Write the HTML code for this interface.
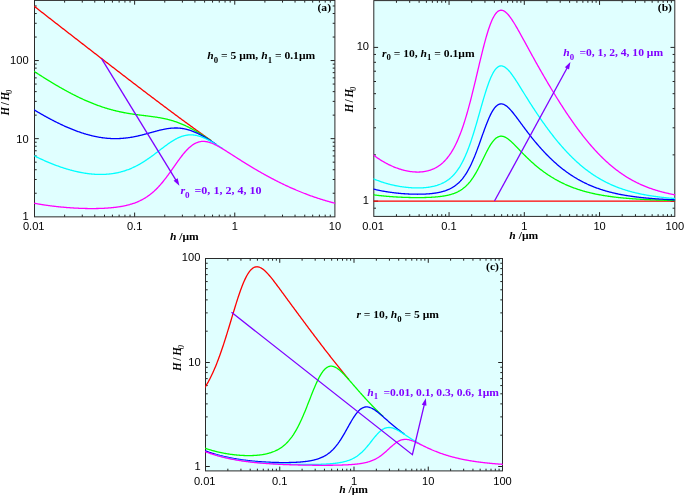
<!DOCTYPE html>
<html><head><meta charset="utf-8"><title>Figure</title><style>html,body{margin:0;padding:0;background:#fff}svg{display:block}</style></head><body>
<svg width="685" height="496" viewBox="0 0 685 496">
<style>.tk{font-family:"Liberation Sans",Arial,sans-serif;font-size:10.5px;fill:#000}.t{font-family:"Liberation Serif","Times New Roman",serif;font-weight:bold;font-size:10.85px;fill:#000}.p{fill:#8000ff}.i{font-style:italic}.s{font-size:8.2px}.s2{font-size:7.5px;font-weight:normal}</style>
<rect width="685" height="496" fill="#fff"/>
<clipPath id="ca"><rect x="34.20" y="0.10" width="301.00" height="217.05"/></clipPath>
<rect x="34.5" y="0.4" width="300.40" height="216.45" fill="#e0ffff"/>
<path d="M64.64,216.85v-2.2M64.64,0.4v2.2M82.27,216.85v-2.2M82.27,0.4v2.2M94.78,216.85v-2.2M94.78,0.4v2.2M104.49,216.85v-2.2M104.49,0.4v2.2M112.42,216.85v-2.2M112.42,0.4v2.2M119.12,216.85v-2.2M119.12,0.4v2.2M124.93,216.85v-2.2M124.93,0.4v2.2M130.05,216.85v-2.2M130.05,0.4v2.2M134.63,216.85v-4.3M134.63,0.4v4.3M164.77,216.85v-2.2M164.77,0.4v2.2M182.40,216.85v-2.2M182.40,0.4v2.2M194.91,216.85v-2.2M194.91,0.4v2.2M204.62,216.85v-2.2M204.62,0.4v2.2M212.55,216.85v-2.2M212.55,0.4v2.2M219.25,216.85v-2.2M219.25,0.4v2.2M225.06,216.85v-2.2M225.06,0.4v2.2M230.18,216.85v-2.2M230.18,0.4v2.2M234.76,216.85v-4.3M234.76,0.4v4.3M264.90,216.85v-2.2M264.90,0.4v2.2M282.53,216.85v-2.2M282.53,0.4v2.2M295.04,216.85v-2.2M295.04,0.4v2.2M304.75,216.85v-2.2M304.75,0.4v2.2M312.68,216.85v-2.2M312.68,0.4v2.2M319.38,216.85v-2.2M319.38,0.4v2.2M325.19,216.85v-2.2M325.19,0.4v2.2M330.31,216.85v-2.2M330.31,0.4v2.2M34.5,193.24h2.2M334.9,193.24h-2.2M34.5,179.49h2.2M334.9,179.49h-2.2M34.5,169.73h2.2M334.9,169.73h-2.2M34.5,162.16h2.2M334.9,162.16h-2.2M34.5,155.98h2.2M334.9,155.98h-2.2M34.5,150.75h2.2M334.9,150.75h-2.2M34.5,146.22h2.2M334.9,146.22h-2.2M34.5,142.22h2.2M334.9,142.22h-2.2M34.5,138.65h4.3M334.9,138.65h-4.3M34.5,115.14h2.2M334.9,115.14h-2.2M34.5,101.39h2.2M334.9,101.39h-2.2M34.5,91.63h2.2M334.9,91.63h-2.2M34.5,84.06h2.2M334.9,84.06h-2.2M34.5,77.88h2.2M334.9,77.88h-2.2M34.5,72.65h2.2M334.9,72.65h-2.2M34.5,68.12h2.2M334.9,68.12h-2.2M34.5,64.12h2.2M334.9,64.12h-2.2M34.5,60.55h4.3M334.9,60.55h-4.3M34.5,37.04h2.2M334.9,37.04h-2.2M34.5,23.29h2.2M334.9,23.29h-2.2M34.5,13.53h2.2M334.9,13.53h-2.2M34.5,5.96h2.2M334.9,5.96h-2.2" stroke="#222" stroke-width="1" fill="none"/>
<rect x="34.5" y="0.4" width="300.40" height="216.45" fill="none" stroke="#2a2a2a" stroke-width="1"/>
<g clip-path="url(#ca)" fill="none" stroke-width="1.3" stroke-linejoin="round">
<polyline points="30.70,3.55 31.31,4.03 31.92,4.51 32.54,4.99 33.15,5.47 33.77,5.94 34.38,6.42 34.99,6.90 35.61,7.38 36.22,7.86 36.84,8.33 37.45,8.81 38.06,9.29 38.68,9.77 39.29,10.25 39.91,10.72 40.52,11.20 41.13,11.68 41.75,12.16 42.36,12.63 42.98,13.11 43.59,13.59 44.21,14.07 44.82,14.55 45.43,15.02 46.05,15.50 46.66,15.98 47.28,16.46 47.89,16.93 48.50,17.41 49.12,17.89 49.73,18.37 50.35,18.84 50.96,19.32 51.57,19.80 52.19,20.28 52.80,20.75 53.42,21.23 54.03,21.71 54.64,22.19 55.26,22.66 55.87,23.14 56.49,23.62 57.10,24.10 57.71,24.57 58.33,25.05 58.94,25.53 59.56,26.01 60.17,26.48 60.78,26.96 61.40,27.44 62.01,27.91 62.63,28.39 63.24,28.87 63.85,29.35 64.47,29.82 65.08,30.30 65.70,30.78 66.31,31.25 66.92,31.73 67.54,32.21 68.15,32.68 68.77,33.16 69.38,33.64 69.99,34.11 70.61,34.59 71.22,35.07 71.84,35.54 72.45,36.02 73.07,36.50 73.68,36.97 74.29,37.45 74.91,37.93 75.52,38.40 76.14,38.88 76.75,39.36 77.36,39.83 77.98,40.31 78.59,40.79 79.21,41.26 79.82,41.74 80.43,42.21 81.05,42.69 81.66,43.17 82.28,43.64 82.89,44.12 83.50,44.59 84.12,45.07 84.73,45.55 85.35,46.02 85.96,46.50 86.57,46.97 87.19,47.45 87.80,47.92 88.42,48.40 89.03,48.88 89.64,49.35 90.26,49.83 90.87,50.30 91.49,50.78 92.10,51.25 92.71,51.73 93.33,52.20 93.94,52.68 94.56,53.15 95.17,53.63 95.78,54.10 96.40,54.58 97.01,55.05 97.63,55.53 98.24,56.00 98.85,56.48 99.47,56.95 100.08,57.43 100.70,57.90 101.31,58.38 101.93,58.85 102.54,59.33 103.15,59.80 103.77,60.27 104.38,60.75 105.00,61.22 105.61,61.70 106.22,62.17 106.84,62.64 107.45,63.12 108.07,63.59 108.68,64.07 109.29,64.54 109.91,65.01 110.52,65.49 111.14,65.96 111.75,66.43 112.36,66.91 112.98,67.38 113.59,67.85 114.21,68.32 114.82,68.80 115.43,69.27 116.05,69.74 116.66,70.22 117.28,70.69 117.89,71.16 118.50,71.63 119.12,72.11 119.73,72.58 120.35,73.05 120.96,73.52 121.57,73.99 122.19,74.47 122.80,74.94 123.42,75.41 124.03,75.88 124.64,76.35 125.26,76.82 125.87,77.29 126.49,77.76 127.10,78.24 127.72,78.71 128.33,79.18 128.94,79.65 129.56,80.12 130.17,80.59 130.79,81.06 131.40,81.53 132.01,82.00 132.63,82.47 133.24,82.94 133.86,83.41 134.47,83.88 135.08,84.35 135.70,84.82 136.31,85.29 136.93,85.75 137.54,86.22 138.15,86.69 138.77,87.16 139.38,87.63 140.00,88.10 140.61,88.56 141.22,89.03 141.84,89.50 142.45,89.97 143.07,90.44 143.68,90.90 144.29,91.37 144.91,91.84 145.52,92.30 146.14,92.77 146.75,93.24 147.36,93.70 147.98,94.17 148.59,94.64 149.21,95.10 149.82,95.57 150.43,96.03 151.05,96.50 151.66,96.96 152.28,97.43 152.89,97.89 153.50,98.36 154.12,98.82 154.73,99.28 155.35,99.75 155.96,100.21 156.58,100.68 157.19,101.14 157.80,101.60 158.42,102.06 159.03,102.53 159.65,102.99 160.26,103.45 160.87,103.91 161.49,104.38 162.10,104.84 162.72,105.30 163.33,105.76 163.94,106.22 164.56,106.68 165.17,107.14 165.79,107.60 166.40,108.06 167.01,108.52 167.63,108.98 168.24,109.44 168.86,109.90 169.47,110.35 170.08,110.81 170.70,111.27 171.31,111.73 171.93,112.18 172.54,112.64 173.15,113.10 173.77,113.55 174.38,114.01 175.00,114.46 175.61,114.92 176.22,115.38 176.84,115.83 177.45,116.28 178.07,116.74 178.68,117.19 179.29,117.65 179.91,118.10 180.52,118.55 181.14,119.00 181.75,119.46 182.36,119.91 182.98,120.36 183.59,120.81 184.21,121.26 184.82,121.71 185.44,122.16 186.05,122.61 186.66,123.06 187.28,123.51 187.89,123.95 188.51,124.40 189.12,124.85 189.73,125.30 190.35,125.74 190.96,126.19 191.58,126.63 192.19,127.08 192.80,127.52 193.42,127.97 194.03,128.41 194.65,128.85 195.26,129.30 195.87,129.74 196.49,130.18 197.10,130.62 197.72,131.06 198.33,131.50 198.94,131.94 199.56,132.38 200.17,132.82 200.79,133.26 201.40,133.70 202.01,134.14 202.63,134.57 203.24,135.01 203.86,135.44 204.47,135.88 205.08,136.31 205.70,136.75 206.31,137.18 206.93,137.61 207.54,138.05 208.15,138.48 208.77,138.91 209.38,139.34 210.00,139.77 210.61,140.20 211.22,140.63" stroke="#ff0000"/>
<polyline points="30.70,69.07 31.31,69.48 31.92,69.89 32.54,70.30 33.15,70.70 33.77,71.11 34.38,71.51 34.99,71.92 35.61,72.32 36.22,72.72 36.84,73.12 37.45,73.52 38.06,73.92 38.68,74.32 39.29,74.71 39.91,75.11 40.52,75.50 41.13,75.90 41.75,76.29 42.36,76.68 42.98,77.07 43.59,77.46 44.21,77.84 44.82,78.23 45.43,78.62 46.05,79.00 46.66,79.38 47.28,79.76 47.89,80.14 48.50,80.52 49.12,80.90 49.73,81.28 50.35,81.65 50.96,82.02 51.57,82.40 52.19,82.77 52.80,83.14 53.42,83.50 54.03,83.87 54.64,84.24 55.26,84.60 55.87,84.96 56.49,85.32 57.10,85.68 57.71,86.04 58.33,86.40 58.94,86.75 59.56,87.11 60.17,87.46 60.78,87.81 61.40,88.16 62.01,88.50 62.63,88.85 63.24,89.19 63.85,89.53 64.47,89.88 65.08,90.21 65.70,90.55 66.31,90.89 66.92,91.22 67.54,91.55 68.15,91.88 68.77,92.21 69.38,92.54 69.99,92.86 70.61,93.18 71.22,93.51 71.84,93.82 72.45,94.14 73.07,94.46 73.68,94.77 74.29,95.08 74.91,95.39 75.52,95.70 76.14,96.01 76.75,96.31 77.36,96.61 77.98,96.91 78.59,97.21 79.21,97.50 79.82,97.80 80.43,98.09 81.05,98.38 81.66,98.66 82.28,98.95 82.89,99.23 83.50,99.51 84.12,99.79 84.73,100.06 85.35,100.34 85.96,100.61 86.57,100.88 87.19,101.15 87.80,101.41 88.42,101.67 89.03,101.93 89.64,102.19 90.26,102.44 90.87,102.70 91.49,102.95 92.10,103.20 92.71,103.44 93.33,103.68 93.94,103.93 94.56,104.16 95.17,104.40 95.78,104.63 96.40,104.86 97.01,105.09 97.63,105.32 98.24,105.54 98.85,105.76 99.47,105.98 100.08,106.20 100.70,106.41 101.31,106.62 101.93,106.83 102.54,107.03 103.15,107.24 103.77,107.44 104.38,107.64 105.00,107.83 105.61,108.02 106.22,108.21 106.84,108.40 107.45,108.59 108.07,108.77 108.68,108.95 109.29,109.12 109.91,109.30 110.52,109.47 111.14,109.64 111.75,109.81 112.36,109.97 112.98,110.13 113.59,110.29 114.21,110.45 114.82,110.60 115.43,110.75 116.05,110.90 116.66,111.05 117.28,111.19 117.89,111.34 118.50,111.47 119.12,111.61 119.73,111.75 120.35,111.88 120.96,112.01 121.57,112.14 122.19,112.26 122.80,112.38 123.42,112.50 124.03,112.62 124.64,112.74 125.26,112.85 125.87,112.96 126.49,113.07 127.10,113.18 127.72,113.29 128.33,113.39 128.94,113.49 129.56,113.59 130.17,113.69 130.79,113.79 131.40,113.88 132.01,113.98 132.63,114.07 133.24,114.16 133.86,114.25 134.47,114.33 135.08,114.42 135.70,114.50 136.31,114.59 136.93,114.67 137.54,114.75 138.15,114.83 138.77,114.91 139.38,114.99 140.00,115.07 140.61,115.14 141.22,115.22 141.84,115.30 142.45,115.37 143.07,115.45 143.68,115.52 144.29,115.60 144.91,115.67 145.52,115.75 146.14,115.82 146.75,115.90 147.36,115.97 147.98,116.05 148.59,116.13 149.21,116.20 149.82,116.28 150.43,116.36 151.05,116.44 151.66,116.52 152.28,116.60 152.89,116.69 153.50,116.77 154.12,116.86 154.73,116.95 155.35,117.04 155.96,117.13 156.58,117.22 157.19,117.32 157.80,117.42 158.42,117.52 159.03,117.62 159.65,117.73 160.26,117.84 160.87,117.95 161.49,118.06 162.10,118.18 162.72,118.30 163.33,118.42 163.94,118.55 164.56,118.68 165.17,118.82 165.79,118.95 166.40,119.09 167.01,119.24 167.63,119.39 168.24,119.54 168.86,119.70 169.47,119.86 170.08,120.03 170.70,120.20 171.31,120.37 171.93,120.55 172.54,120.73 173.15,120.92 173.77,121.11 174.38,121.31 175.00,121.51 175.61,121.72 176.22,121.93 176.84,122.15 177.45,122.37 178.07,122.59 178.68,122.82 179.29,123.06 179.91,123.30 180.52,123.55 181.14,123.80 181.75,124.05 182.36,124.31 182.98,124.58 183.59,124.85 184.21,125.12 184.82,125.40 185.44,125.69 186.05,125.98 186.66,126.27 187.28,126.57 187.89,126.87 188.51,127.18 189.12,127.49 189.73,127.80 190.35,128.13 190.96,128.45 191.58,128.78 192.19,129.11 192.80,129.45 193.42,129.79 194.03,130.13 194.65,130.48 195.26,130.83 195.87,131.18 196.49,131.54 197.10,131.90 197.72,132.27 198.33,132.64 198.94,133.01 199.56,133.38 200.17,133.76 200.79,134.13 201.40,134.51 202.01,134.90 202.63,135.28 203.24,135.67 203.86,136.06 204.47,136.45 205.08,136.85 205.70,137.24 206.31,137.64 206.93,138.04 207.54,138.44 208.15,138.84 208.77,139.25 209.38,139.65 210.00,140.06 210.61,140.46 211.22,140.87" stroke="#00ff00"/>
<polyline points="30.70,107.78 31.31,108.16 31.92,108.53 32.54,108.91 33.15,109.28 33.77,109.65 34.38,110.02 34.99,110.39 35.61,110.75 36.22,111.12 36.84,111.48 37.45,111.84 38.06,112.20 38.68,112.56 39.29,112.92 39.91,113.27 40.52,113.63 41.13,113.98 41.75,114.33 42.36,114.68 42.98,115.03 43.59,115.38 44.21,115.72 44.82,116.06 45.43,116.41 46.05,116.75 46.66,117.08 47.28,117.42 47.89,117.75 48.50,118.09 49.12,118.42 49.73,118.75 50.35,119.07 50.96,119.40 51.57,119.72 52.19,120.04 52.80,120.36 53.42,120.68 54.03,121.00 54.64,121.31 55.26,121.62 55.87,121.93 56.49,122.24 57.10,122.54 57.71,122.85 58.33,123.15 58.94,123.45 59.56,123.74 60.17,124.04 60.78,124.33 61.40,124.62 62.01,124.91 62.63,125.19 63.24,125.48 63.85,125.76 64.47,126.04 65.08,126.31 65.70,126.59 66.31,126.86 66.92,127.13 67.54,127.40 68.15,127.66 68.77,127.92 69.38,128.18 69.99,128.44 70.61,128.69 71.22,128.94 71.84,129.19 72.45,129.44 73.07,129.68 73.68,129.92 74.29,130.16 74.91,130.40 75.52,130.63 76.14,130.86 76.75,131.09 77.36,131.31 77.98,131.53 78.59,131.75 79.21,131.96 79.82,132.18 80.43,132.39 81.05,132.59 81.66,132.80 82.28,133.00 82.89,133.19 83.50,133.39 84.12,133.58 84.73,133.77 85.35,133.95 85.96,134.14 86.57,134.31 87.19,134.49 87.80,134.66 88.42,134.83 89.03,134.99 89.64,135.16 90.26,135.32 90.87,135.47 91.49,135.62 92.10,135.77 92.71,135.92 93.33,136.06 93.94,136.19 94.56,136.33 95.17,136.46 95.78,136.59 96.40,136.71 97.01,136.83 97.63,136.95 98.24,137.06 98.85,137.17 99.47,137.27 100.08,137.37 100.70,137.47 101.31,137.57 101.93,137.65 102.54,137.74 103.15,137.82 103.77,137.90 104.38,137.98 105.00,138.05 105.61,138.11 106.22,138.18 106.84,138.23 107.45,138.29 108.07,138.34 108.68,138.39 109.29,138.43 109.91,138.47 110.52,138.50 111.14,138.53 111.75,138.56 112.36,138.58 112.98,138.60 113.59,138.61 114.21,138.62 114.82,138.63 115.43,138.63 116.05,138.63 116.66,138.62 117.28,138.61 117.89,138.59 118.50,138.57 119.12,138.55 119.73,138.52 120.35,138.49 120.96,138.46 121.57,138.42 122.19,138.37 122.80,138.32 123.42,138.27 124.03,138.22 124.64,138.16 125.26,138.09 125.87,138.02 126.49,137.95 127.10,137.88 127.72,137.80 128.33,137.71 128.94,137.63 129.56,137.53 130.17,137.44 130.79,137.34 131.40,137.24 132.01,137.13 132.63,137.02 133.24,136.91 133.86,136.79 134.47,136.67 135.08,136.55 135.70,136.43 136.31,136.30 136.93,136.16 137.54,136.03 138.15,135.89 138.77,135.75 139.38,135.61 140.00,135.46 140.61,135.31 141.22,135.16 141.84,135.01 142.45,134.85 143.07,134.69 143.68,134.54 144.29,134.37 144.91,134.21 145.52,134.05 146.14,133.88 146.75,133.72 147.36,133.55 147.98,133.38 148.59,133.21 149.21,133.04 149.82,132.87 150.43,132.70 151.05,132.53 151.66,132.36 152.28,132.19 152.89,132.02 153.50,131.85 154.12,131.68 154.73,131.51 155.35,131.35 155.96,131.18 156.58,131.02 157.19,130.86 157.80,130.70 158.42,130.54 159.03,130.39 159.65,130.24 160.26,130.09 160.87,129.94 161.49,129.80 162.10,129.67 162.72,129.53 163.33,129.40 163.94,129.28 164.56,129.16 165.17,129.04 165.79,128.93 166.40,128.82 167.01,128.72 167.63,128.63 168.24,128.54 168.86,128.45 169.47,128.38 170.08,128.31 170.70,128.24 171.31,128.19 171.93,128.13 172.54,128.09 173.15,128.06 173.77,128.03 174.38,128.01 175.00,127.99 175.61,127.99 176.22,127.99 176.84,128.00 177.45,128.02 178.07,128.05 178.68,128.09 179.29,128.13 179.91,128.19 180.52,128.25 181.14,128.32 181.75,128.40 182.36,128.49 182.98,128.59 183.59,128.69 184.21,128.81 184.82,128.93 185.44,129.06 186.05,129.20 186.66,129.36 187.28,129.51 187.89,129.68 188.51,129.86 189.12,130.04 189.73,130.24 190.35,130.44 190.96,130.65 191.58,130.86 192.19,131.09 192.80,131.32 193.42,131.56 194.03,131.81 194.65,132.07 195.26,132.33 195.87,132.60 196.49,132.88 197.10,133.16 197.72,133.45 198.33,133.75 198.94,134.05 199.56,134.36 200.17,134.68 200.79,135.00 201.40,135.32 202.01,135.65 202.63,135.99 203.24,136.33 203.86,136.68 204.47,137.02 205.08,137.38 205.70,137.74 206.31,138.10 206.93,138.46 207.54,138.83 208.15,139.21 208.77,139.58 209.38,139.96 210.00,140.34 210.61,140.72 211.22,141.11 211.84,141.50 212.45,141.89 213.07,142.28 213.68,142.67 214.30,143.07 214.91,143.47 215.52,143.87 216.14,144.27" stroke="#0000ff"/>
<polyline points="30.70,154.05 31.31,154.36 31.92,154.68 32.54,154.99 33.15,155.29 33.77,155.60 34.38,155.91 34.99,156.21 35.61,156.51 36.22,156.81 36.84,157.11 37.45,157.40 38.06,157.70 38.68,157.99 39.29,158.28 39.91,158.57 40.52,158.85 41.13,159.13 41.75,159.42 42.36,159.70 42.98,159.97 43.59,160.25 44.21,160.52 44.82,160.79 45.43,161.06 46.05,161.33 46.66,161.59 47.28,161.86 47.89,162.12 48.50,162.38 49.12,162.63 49.73,162.89 50.35,163.14 50.96,163.39 51.57,163.63 52.19,163.88 52.80,164.12 53.42,164.36 54.03,164.60 54.64,164.84 55.26,165.07 55.87,165.30 56.49,165.53 57.10,165.76 57.71,165.98 58.33,166.20 58.94,166.42 59.56,166.63 60.17,166.85 60.78,167.06 61.40,167.27 62.01,167.47 62.63,167.68 63.24,167.88 63.85,168.08 64.47,168.27 65.08,168.47 65.70,168.66 66.31,168.85 66.92,169.03 67.54,169.21 68.15,169.39 68.77,169.57 69.38,169.74 69.99,169.92 70.61,170.08 71.22,170.25 71.84,170.41 72.45,170.57 73.07,170.73 73.68,170.88 74.29,171.04 74.91,171.18 75.52,171.33 76.14,171.47 76.75,171.61 77.36,171.75 77.98,171.88 78.59,172.01 79.21,172.14 79.82,172.26 80.43,172.38 81.05,172.50 81.66,172.62 82.28,172.73 82.89,172.84 83.50,172.94 84.12,173.04 84.73,173.14 85.35,173.24 85.96,173.33 86.57,173.42 87.19,173.50 87.80,173.58 88.42,173.66 89.03,173.74 89.64,173.81 90.26,173.87 90.87,173.94 91.49,174.00 92.10,174.05 92.71,174.11 93.33,174.16 93.94,174.20 94.56,174.24 95.17,174.28 95.78,174.31 96.40,174.34 97.01,174.37 97.63,174.39 98.24,174.41 98.85,174.42 99.47,174.43 100.08,174.44 100.70,174.44 101.31,174.44 101.93,174.43 102.54,174.42 103.15,174.41 103.77,174.39 104.38,174.36 105.00,174.33 105.61,174.30 106.22,174.26 106.84,174.22 107.45,174.18 108.07,174.12 108.68,174.07 109.29,174.01 109.91,173.94 110.52,173.87 111.14,173.80 111.75,173.72 112.36,173.63 112.98,173.54 113.59,173.45 114.21,173.35 114.82,173.24 115.43,173.13 116.05,173.01 116.66,172.89 117.28,172.77 117.89,172.63 118.50,172.50 119.12,172.35 119.73,172.21 120.35,172.05 120.96,171.89 121.57,171.73 122.19,171.56 122.80,171.38 123.42,171.20 124.03,171.01 124.64,170.81 125.26,170.61 125.87,170.41 126.49,170.20 127.10,169.98 127.72,169.75 128.33,169.52 128.94,169.29 129.56,169.04 130.17,168.79 130.79,168.54 131.40,168.28 132.01,168.01 132.63,167.74 133.24,167.46 133.86,167.17 134.47,166.88 135.08,166.58 135.70,166.27 136.31,165.96 136.93,165.64 137.54,165.32 138.15,164.99 138.77,164.65 139.38,164.31 140.00,163.96 140.61,163.61 141.22,163.25 141.84,162.88 142.45,162.51 143.07,162.13 143.68,161.75 144.29,161.36 144.91,160.97 145.52,160.57 146.14,160.16 146.75,159.75 147.36,159.33 147.98,158.91 148.59,158.49 149.21,158.06 149.82,157.63 150.43,157.19 151.05,156.75 151.66,156.30 152.28,155.85 152.89,155.40 153.50,154.94 154.12,154.48 154.73,154.02 155.35,153.56 155.96,153.09 156.58,152.62 157.19,152.15 157.80,151.68 158.42,151.21 159.03,150.74 159.65,150.26 160.26,149.79 160.87,149.32 161.49,148.85 162.10,148.38 162.72,147.91 163.33,147.44 163.94,146.98 164.56,146.52 165.17,146.06 165.79,145.61 166.40,145.16 167.01,144.71 167.63,144.27 168.24,143.83 168.86,143.40 169.47,142.98 170.08,142.56 170.70,142.15 171.31,141.75 171.93,141.35 172.54,140.96 173.15,140.59 173.77,140.22 174.38,139.86 175.00,139.51 175.61,139.17 176.22,138.84 176.84,138.52 177.45,138.21 178.07,137.92 178.68,137.64 179.29,137.37 179.91,137.11 180.52,136.86 181.14,136.63 181.75,136.41 182.36,136.21 182.98,136.02 183.59,135.84 184.21,135.68 184.82,135.53 185.44,135.40 186.05,135.28 186.66,135.17 187.28,135.08 187.89,135.01 188.51,134.95 189.12,134.90 189.73,134.87 190.35,134.86 190.96,134.86 191.58,134.87 192.19,134.90 192.80,134.94 193.42,135.00 194.03,135.07 194.65,135.15 195.26,135.25 195.87,135.36 196.49,135.48 197.10,135.62 197.72,135.77 198.33,135.93 198.94,136.10 199.56,136.29 200.17,136.48 200.79,136.69 201.40,136.91 202.01,137.14 202.63,137.38 203.24,137.63 203.86,137.88 204.47,138.15 205.08,138.43 205.70,138.71 206.31,139.00 206.93,139.30 207.54,139.61 208.15,139.92 208.77,140.25 209.38,140.57 210.00,140.91 210.61,141.24 211.22,141.59 211.84,141.94 212.45,142.29 213.07,142.65 213.68,143.01 214.30,143.38 214.91,143.75 215.52,144.12 216.14,144.50 216.75,144.88 217.37,145.26 217.98,145.65 218.59,146.03 219.21,146.42 219.82,146.81 220.44,147.21 221.05,147.60 221.66,148.00 222.28,148.39 222.89,148.79" stroke="#00ffff"/>
<polyline points="30.70,202.58 31.31,202.70 31.92,202.82 32.54,202.94 33.15,203.06 33.77,203.17 34.38,203.29 34.99,203.40 35.61,203.51 36.22,203.62 36.84,203.73 37.45,203.84 38.06,203.95 38.68,204.05 39.29,204.15 39.91,204.26 40.52,204.36 41.13,204.46 41.75,204.56 42.36,204.65 42.98,204.75 43.59,204.84 44.21,204.94 44.82,205.03 45.43,205.12 46.05,205.21 46.66,205.30 47.28,205.38 47.89,205.47 48.50,205.55 49.12,205.64 49.73,205.72 50.35,205.80 50.96,205.88 51.57,205.96 52.19,206.03 52.80,206.11 53.42,206.18 54.03,206.26 54.64,206.33 55.26,206.40 55.87,206.47 56.49,206.54 57.10,206.61 57.71,206.67 58.33,206.74 58.94,206.80 59.56,206.86 60.17,206.93 60.78,206.99 61.40,207.05 62.01,207.11 62.63,207.16 63.24,207.22 63.85,207.27 64.47,207.33 65.08,207.38 65.70,207.43 66.31,207.48 66.92,207.53 67.54,207.58 68.15,207.63 68.77,207.67 69.38,207.72 69.99,207.76 70.61,207.80 71.22,207.84 71.84,207.88 72.45,207.92 73.07,207.96 73.68,208.00 74.29,208.03 74.91,208.07 75.52,208.10 76.14,208.13 76.75,208.17 77.36,208.20 77.98,208.22 78.59,208.25 79.21,208.28 79.82,208.30 80.43,208.33 81.05,208.35 81.66,208.37 82.28,208.39 82.89,208.41 83.50,208.43 84.12,208.45 84.73,208.47 85.35,208.48 85.96,208.49 86.57,208.51 87.19,208.52 87.80,208.53 88.42,208.53 89.03,208.54 89.64,208.55 90.26,208.55 90.87,208.56 91.49,208.56 92.10,208.56 92.71,208.56 93.33,208.55 93.94,208.55 94.56,208.55 95.17,208.54 95.78,208.53 96.40,208.52 97.01,208.51 97.63,208.50 98.24,208.48 98.85,208.47 99.47,208.45 100.08,208.43 100.70,208.41 101.31,208.39 101.93,208.36 102.54,208.34 103.15,208.31 103.77,208.28 104.38,208.25 105.00,208.21 105.61,208.18 106.22,208.14 106.84,208.10 107.45,208.06 108.07,208.02 108.68,207.97 109.29,207.92 109.91,207.87 110.52,207.82 111.14,207.76 111.75,207.71 112.36,207.64 112.98,207.58 113.59,207.52 114.21,207.45 114.82,207.38 115.43,207.30 116.05,207.23 116.66,207.15 117.28,207.06 117.89,206.98 118.50,206.89 119.12,206.79 119.73,206.70 120.35,206.60 120.96,206.49 121.57,206.39 122.19,206.28 122.80,206.16 123.42,206.04 124.03,205.92 124.64,205.79 125.26,205.66 125.87,205.52 126.49,205.38 127.10,205.23 127.72,205.08 128.33,204.92 128.94,204.76 129.56,204.60 130.17,204.42 130.79,204.24 131.40,204.06 132.01,203.87 132.63,203.67 133.24,203.47 133.86,203.26 134.47,203.04 135.08,202.82 135.70,202.58 136.31,202.34 136.93,202.10 137.54,201.84 138.15,201.58 138.77,201.31 139.38,201.03 140.00,200.74 140.61,200.44 141.22,200.14 141.84,199.82 142.45,199.49 143.07,199.16 143.68,198.81 144.29,198.46 144.91,198.09 145.52,197.71 146.14,197.32 146.75,196.92 147.36,196.51 147.98,196.08 148.59,195.65 149.21,195.20 149.82,194.74 150.43,194.27 151.05,193.78 151.66,193.28 152.28,192.77 152.89,192.24 153.50,191.70 154.12,191.15 154.73,190.58 155.35,190.00 155.96,189.41 156.58,188.80 157.19,188.18 157.80,187.54 158.42,186.90 159.03,186.23 159.65,185.56 160.26,184.87 160.87,184.16 161.49,183.45 162.10,182.72 162.72,181.98 163.33,181.23 163.94,180.46 164.56,179.68 165.17,178.90 165.79,178.10 166.40,177.29 167.01,176.47 167.63,175.65 168.24,174.81 168.86,173.97 169.47,173.12 170.08,172.26 170.70,171.40 171.31,170.54 171.93,169.67 172.54,168.79 173.15,167.92 173.77,167.04 174.38,166.17 175.00,165.29 175.61,164.42 176.22,163.55 176.84,162.68 177.45,161.82 178.07,160.96 178.68,160.12 179.29,159.28 179.91,158.44 180.52,157.62 181.14,156.81 181.75,156.02 182.36,155.23 182.98,154.46 183.59,153.71 184.21,152.97 184.82,152.25 185.44,151.55 186.05,150.87 186.66,150.20 187.28,149.56 187.89,148.94 188.51,148.34 189.12,147.76 189.73,147.21 190.35,146.68 190.96,146.17 191.58,145.69 192.19,145.24 192.80,144.81 193.42,144.40 194.03,144.02 194.65,143.67 195.26,143.34 195.87,143.04 196.49,142.77 197.10,142.52 197.72,142.29 198.33,142.09 198.94,141.92 199.56,141.77 200.17,141.65 200.79,141.55 201.40,141.47 202.01,141.42 202.63,141.39 203.24,141.38 203.86,141.39 204.47,141.43 205.08,141.48 205.70,141.56 206.31,141.65 206.93,141.76 207.54,141.89 208.15,142.04 208.77,142.20 209.38,142.38 210.00,142.58 210.61,142.78 211.22,143.01 211.84,143.24 212.45,143.49 213.07,143.75 213.68,144.02 214.30,144.30 214.91,144.59 215.52,144.89 216.14,145.20 216.75,145.51 217.37,145.84 217.98,146.17 218.59,146.51 219.21,146.85 219.82,147.20 220.44,147.55 221.05,147.91 221.66,148.28 222.28,148.64 222.89,149.02 223.51,149.39 224.12,149.77 224.73,150.15 225.35,150.53 225.96,150.91 226.58,151.30 227.19,151.69 227.80,152.08 228.42,152.47 229.03,152.86 229.65,153.25 230.26,153.64 230.87,154.04 231.49,154.43 232.10,154.82 232.72,155.22 233.33,155.61 233.94,156.00 234.56,156.40 235.17,156.79 235.79,157.18 236.40,157.58 237.01,157.97 237.63,158.36 238.24,158.75 238.86,159.14 239.47,159.53 240.08,159.92 240.70,160.31 241.31,160.69 241.93,161.08 242.54,161.46 243.16,161.85 243.77,162.23 244.38,162.61 245.00,162.99 245.61,163.37 246.23,163.75 246.84,164.13 247.45,164.51 248.07,164.88 248.68,165.26 249.30,165.63 249.91,166.00 250.52,166.37 251.14,166.74 251.75,167.11 252.37,167.48 252.98,167.84 253.59,168.21 254.21,168.57 254.82,168.94 255.44,169.30 256.05,169.66 256.66,170.02 257.28,170.37 257.89,170.73 258.51,171.08 259.12,171.44 259.73,171.79 260.35,172.14 260.96,172.49 261.58,172.84 262.19,173.19 262.80,173.53 263.42,173.88 264.03,174.22 264.65,174.56 265.26,174.90 265.87,175.24 266.49,175.58 267.10,175.91 267.72,176.25 268.33,176.58 268.95,176.91 269.56,177.24 270.17,177.57 270.79,177.90 271.40,178.23 272.02,178.55 272.63,178.87 273.24,179.19 273.86,179.51 274.47,179.83 275.09,180.15 275.70,180.46 276.31,180.78 276.93,181.09 277.54,181.40 278.16,181.71 278.77,182.02 279.38,182.32 280.00,182.63 280.61,182.93 281.23,183.23 281.84,183.53 282.45,183.83 283.07,184.13 283.68,184.42 284.30,184.72 284.91,185.01 285.52,185.30 286.14,185.59 286.75,185.87 287.37,186.16 287.98,186.44 288.59,186.73 289.21,187.01 289.82,187.29 290.44,187.56 291.05,187.84 291.66,188.11 292.28,188.38 292.89,188.65 293.51,188.92 294.12,189.19 294.73,189.46 295.35,189.72 295.96,189.98 296.58,190.24 297.19,190.50 297.81,190.76 298.42,191.01 299.03,191.27 299.65,191.52 300.26,191.77 300.88,192.02 301.49,192.27 302.10,192.51 302.72,192.76 303.33,193.00 303.95,193.24 304.56,193.48 305.17,193.71 305.79,193.95 306.40,194.18 307.02,194.41 307.63,194.65 308.24,194.87 308.86,195.10 309.47,195.33 310.09,195.55 310.70,195.77 311.31,195.99 311.93,196.21 312.54,196.43 313.16,196.64 313.77,196.85 314.38,197.07 315.00,197.28 315.61,197.48 316.23,197.69 316.84,197.90 317.45,198.10 318.07,198.30 318.68,198.50 319.30,198.70 319.91,198.90 320.52,199.09 321.14,199.29 321.75,199.48 322.37,199.67 322.98,199.86 323.59,200.04 324.21,200.23 324.82,200.41 325.44,200.60 326.05,200.78 326.67,200.95 327.28,201.13 327.89,201.31 328.51,201.48 329.12,201.66 329.74,201.83 330.35,202.00 330.96,202.16 331.58,202.33 332.19,202.50 332.81,202.66 333.42,202.82 334.03,202.98 334.65,203.14 335.26,203.30 335.88,203.46 336.49,203.61 337.10,203.76" stroke="#ff00ff"/>
</g>
<text transform="translate(33.70,230.20) scale(1.06,1)" text-anchor="middle" class="tk">0.01</text>
<text transform="translate(134.63,230.20) scale(1.06,1)" text-anchor="middle" class="tk">0.1</text>
<text transform="translate(234.76,230.20) scale(1.06,1)" text-anchor="middle" class="tk">1</text>
<text transform="translate(334.89,230.20) scale(1.06,1)" text-anchor="middle" class="tk">10</text>
<text transform="translate(28.60,219.60) scale(1.06,1)" text-anchor="end" class="tk">1</text>
<text transform="translate(28.60,142.55) scale(1.06,1)" text-anchor="end" class="tk">10</text>
<text transform="translate(28.60,64.45) scale(1.06,1)" text-anchor="end" class="tk">100</text>
<clipPath id="cb"><rect x="373.50" y="0.30" width="301.60" height="216.40"/></clipPath>
<rect x="373.8" y="0.6" width="301.00" height="215.80" fill="#e0ffff"/>
<path d="M396.45,216.4v-2.2M396.45,0.6v2.2M409.70,216.4v-2.2M409.70,0.6v2.2M419.11,216.4v-2.2M419.11,0.6v2.2M426.40,216.4v-2.2M426.40,0.6v2.2M432.36,216.4v-2.2M432.36,0.6v2.2M437.39,216.4v-2.2M437.39,0.6v2.2M441.76,216.4v-2.2M441.76,0.6v2.2M445.61,216.4v-2.2M445.61,0.6v2.2M449.05,216.4v-4.3M449.05,0.6v4.3M471.70,216.4v-2.2M471.70,0.6v2.2M484.95,216.4v-2.2M484.95,0.6v2.2M494.36,216.4v-2.2M494.36,0.6v2.2M501.65,216.4v-2.2M501.65,0.6v2.2M507.61,216.4v-2.2M507.61,0.6v2.2M512.64,216.4v-2.2M512.64,0.6v2.2M517.01,216.4v-2.2M517.01,0.6v2.2M520.86,216.4v-2.2M520.86,0.6v2.2M524.30,216.4v-4.3M524.30,0.6v4.3M546.95,216.4v-2.2M546.95,0.6v2.2M560.20,216.4v-2.2M560.20,0.6v2.2M569.61,216.4v-2.2M569.61,0.6v2.2M576.90,216.4v-2.2M576.90,0.6v2.2M582.86,216.4v-2.2M582.86,0.6v2.2M587.89,216.4v-2.2M587.89,0.6v2.2M592.26,216.4v-2.2M592.26,0.6v2.2M596.11,216.4v-2.2M596.11,0.6v2.2M599.55,216.4v-4.3M599.55,0.6v4.3M622.20,216.4v-2.2M622.20,0.6v2.2M635.45,216.4v-2.2M635.45,0.6v2.2M644.86,216.4v-2.2M644.86,0.6v2.2M652.15,216.4v-2.2M652.15,0.6v2.2M658.11,216.4v-2.2M658.11,0.6v2.2M663.14,216.4v-2.2M663.14,0.6v2.2M667.51,216.4v-2.2M667.51,0.6v2.2M671.36,216.4v-2.2M671.36,0.6v2.2M373.8,208.19h2.2M674.8,208.19h-2.2M373.8,201.15h4.3M674.8,201.15h-4.3M373.8,154.87h2.2M674.8,154.87h-2.2M373.8,127.79h2.2M674.8,127.79h-2.2M373.8,108.58h2.2M674.8,108.58h-2.2M373.8,93.68h2.2M674.8,93.68h-2.2M373.8,81.51h2.2M674.8,81.51h-2.2M373.8,71.22h2.2M674.8,71.22h-2.2M373.8,62.30h2.2M674.8,62.30h-2.2M373.8,54.44h2.2M674.8,54.44h-2.2M373.8,47.40h4.3M674.8,47.40h-4.3" stroke="#222" stroke-width="1" fill="none"/>
<rect x="373.8" y="0.6" width="301.00" height="215.80" fill="none" stroke="#2a2a2a" stroke-width="1"/>
<g clip-path="url(#cb)" fill="none" stroke-width="1.3" stroke-linejoin="round">
<polyline points="371.54,201.15 372.15,201.15 372.77,201.15 373.38,201.15 373.99,201.15 374.60,201.15 375.22,201.15 375.83,201.15 376.44,201.15 377.05,201.15 377.67,201.15 378.28,201.15 378.89,201.15 379.50,201.15 380.11,201.15 380.73,201.15 381.34,201.15 381.95,201.15 382.56,201.15 383.18,201.15 383.79,201.15 384.40,201.15 385.01,201.15 385.62,201.15 386.24,201.15 386.85,201.15 387.46,201.15 388.07,201.15 388.69,201.15 389.30,201.15 389.91,201.15 390.52,201.15 391.13,201.15 391.75,201.15 392.36,201.15 392.97,201.15 393.58,201.15 394.20,201.15 394.81,201.15 395.42,201.15 396.03,201.15 396.64,201.15 397.26,201.15 397.87,201.15 398.48,201.15 399.09,201.15 399.71,201.15 400.32,201.15 400.93,201.15 401.54,201.15 402.16,201.15 402.77,201.15 403.38,201.15 403.99,201.15 404.60,201.15 405.22,201.15 405.83,201.15 406.44,201.15 407.05,201.15 407.67,201.15 408.28,201.15 408.89,201.15 409.50,201.15 410.11,201.15 410.73,201.15 411.34,201.15 411.95,201.15 412.56,201.15 413.18,201.15 413.79,201.15 414.40,201.15 415.01,201.15 415.62,201.15 416.24,201.15 416.85,201.15 417.46,201.15 418.07,201.15 418.69,201.15 419.30,201.15 419.91,201.15 420.52,201.15 421.14,201.15 421.75,201.15 422.36,201.15 422.97,201.15 423.58,201.15 424.20,201.15 424.81,201.15 425.42,201.15 426.03,201.15 426.65,201.15 427.26,201.15 427.87,201.15 428.48,201.15 429.09,201.15 429.71,201.15 430.32,201.15 430.93,201.15 431.54,201.15 432.16,201.15 432.77,201.15 433.38,201.15 433.99,201.15 434.60,201.15 435.22,201.15 435.83,201.15 436.44,201.15 437.05,201.15 437.67,201.15 438.28,201.15 438.89,201.15 439.50,201.15 440.12,201.15 440.73,201.15 441.34,201.15 441.95,201.15 442.56,201.15 443.18,201.15 443.79,201.15 444.40,201.15 445.01,201.15 445.63,201.15 446.24,201.15 446.85,201.15 447.46,201.15 448.07,201.15 448.69,201.15 449.30,201.15 449.91,201.15 450.52,201.15 451.14,201.15 451.75,201.15 452.36,201.15 452.97,201.15 453.58,201.15 454.20,201.15 454.81,201.15 455.42,201.15 456.03,201.15 456.65,201.15 457.26,201.15 457.87,201.15 458.48,201.15 459.09,201.15 459.71,201.15 460.32,201.15 460.93,201.15 461.54,201.15 462.16,201.15 462.77,201.15 463.38,201.15 463.99,201.15 464.61,201.15 465.22,201.15 465.83,201.15 466.44,201.15 467.05,201.15 467.67,201.15 468.28,201.15 468.89,201.15 469.50,201.15 470.12,201.15 470.73,201.15 471.34,201.15 471.95,201.15 472.56,201.15 473.18,201.15 473.79,201.15 474.40,201.15 475.01,201.15 475.63,201.15 476.24,201.15 476.85,201.15 477.46,201.15 478.07,201.15 478.69,201.15 479.30,201.15 479.91,201.15 480.52,201.15 481.14,201.15 481.75,201.15 482.36,201.15 482.97,201.15 483.59,201.15 484.20,201.15 484.81,201.15 485.42,201.15 486.03,201.15 486.65,201.15 487.26,201.15 487.87,201.15 488.48,201.15 489.10,201.15 489.71,201.15 490.32,201.15 490.93,201.15 491.54,201.15 492.16,201.15 492.77,201.15 493.38,201.15 493.99,201.15 494.61,201.15 495.22,201.15 495.83,201.15 496.44,201.15 497.05,201.15 497.67,201.15 498.28,201.15 498.89,201.15 499.50,201.15 500.12,201.15 500.73,201.15 501.34,201.15 501.95,201.15 502.56,201.15 503.18,201.15 503.79,201.15 504.40,201.15 505.01,201.15 505.63,201.15 506.24,201.15 506.85,201.15 507.46,201.15 508.08,201.15 508.69,201.15 509.30,201.15 509.91,201.15 510.52,201.15 511.14,201.15 511.75,201.15 512.36,201.15 512.97,201.15 513.59,201.15 514.20,201.15 514.81,201.15 515.42,201.15 516.03,201.15 516.65,201.15 517.26,201.15 517.87,201.15 518.48,201.15 519.10,201.15 519.71,201.15 520.32,201.15 520.93,201.15 521.54,201.15 522.16,201.15 522.77,201.15 523.38,201.15 523.99,201.15 524.61,201.15 525.22,201.15 525.83,201.15 526.44,201.15 527.06,201.15 527.67,201.15 528.28,201.15 528.89,201.15 529.50,201.15 530.12,201.15 530.73,201.15 531.34,201.15 531.95,201.15 532.57,201.15 533.18,201.15 533.79,201.15 534.40,201.15 535.01,201.15 535.63,201.15 536.24,201.15 536.85,201.15 537.46,201.15 538.08,201.15 538.69,201.15 539.30,201.15 539.91,201.15 540.52,201.15 541.14,201.15 541.75,201.15 542.36,201.15 542.97,201.15 543.59,201.15 544.20,201.15 544.81,201.15 545.42,201.15 546.04,201.15 546.65,201.15 547.26,201.15 547.87,201.15 548.48,201.15 549.10,201.15 549.71,201.15 550.32,201.15 550.93,201.15 551.55,201.15 552.16,201.15 552.77,201.15 553.38,201.15 553.99,201.15 554.61,201.15 555.22,201.15 555.83,201.15 556.44,201.15 557.06,201.15 557.67,201.15 558.28,201.15 558.89,201.15 559.50,201.15 560.12,201.15 560.73,201.15 561.34,201.15 561.95,201.15 562.57,201.15 563.18,201.15 563.79,201.15 564.40,201.15 565.01,201.15 565.63,201.15 566.24,201.15 566.85,201.15 567.46,201.15 568.08,201.15 568.69,201.15 569.30,201.15 569.91,201.15 570.53,201.15 571.14,201.15 571.75,201.15 572.36,201.15 572.97,201.15 573.59,201.15 574.20,201.15 574.81,201.15 575.42,201.15 576.04,201.15 576.65,201.15 577.26,201.15 577.87,201.15 578.48,201.15 579.10,201.15 579.71,201.15 580.32,201.15 580.93,201.15 581.55,201.15 582.16,201.15 582.77,201.15 583.38,201.15 583.99,201.15 584.61,201.15 585.22,201.15 585.83,201.15 586.44,201.15 587.06,201.15 587.67,201.15 588.28,201.15 588.89,201.15 589.51,201.15 590.12,201.15 590.73,201.15 591.34,201.15 591.95,201.15 592.57,201.15 593.18,201.15 593.79,201.15 594.40,201.15 595.02,201.15 595.63,201.15 596.24,201.15 596.85,201.15 597.46,201.15 598.08,201.15 598.69,201.15 599.30,201.15 599.91,201.15 600.53,201.15 601.14,201.15 601.75,201.15 602.36,201.15 602.97,201.15 603.59,201.15 604.20,201.15 604.81,201.15 605.42,201.15 606.04,201.15 606.65,201.15 607.26,201.15 607.87,201.15 608.48,201.15 609.10,201.15 609.71,201.15 610.32,201.15 610.93,201.15 611.55,201.15 612.16,201.15 612.77,201.15 613.38,201.15 614.00,201.15 614.61,201.15 615.22,201.15 615.83,201.15 616.44,201.15 617.06,201.15 617.67,201.15 618.28,201.15 618.89,201.15 619.51,201.15 620.12,201.15 620.73,201.15 621.34,201.15 621.95,201.15 622.57,201.15 623.18,201.15 623.79,201.15 624.40,201.15 625.02,201.15 625.63,201.15 626.24,201.15 626.85,201.15 627.46,201.15 628.08,201.15 628.69,201.15 629.30,201.15 629.91,201.15 630.53,201.15 631.14,201.15 631.75,201.15 632.36,201.15 632.98,201.15 633.59,201.15 634.20,201.15 634.81,201.15 635.42,201.15 636.04,201.15 636.65,201.15 637.26,201.15 637.87,201.15 638.49,201.15 639.10,201.15 639.71,201.15 640.32,201.15 640.93,201.15 641.55,201.15 642.16,201.15 642.77,201.15 643.38,201.15 644.00,201.15 644.61,201.15 645.22,201.15 645.83,201.15 646.44,201.15 647.06,201.15 647.67,201.15 648.28,201.15 648.89,201.15 649.51,201.15 650.12,201.15 650.73,201.15 651.34,201.15 651.96,201.15 652.57,201.15 653.18,201.15 653.79,201.15 654.40,201.15 655.02,201.15 655.63,201.15 656.24,201.15 656.85,201.15 657.47,201.15 658.08,201.15 658.69,201.15 659.30,201.15 659.91,201.15 660.53,201.15 661.14,201.15 661.75,201.15 662.36,201.15 662.98,201.15 663.59,201.15 664.20,201.15 664.81,201.15 665.42,201.15 666.04,201.15 666.65,201.15 667.26,201.15 667.87,201.15 668.49,201.15 669.10,201.15 669.71,201.15 670.32,201.15 670.93,201.15 671.55,201.15 672.16,201.15 672.77,201.15 673.38,201.15 674.00,201.15 674.61,201.15 675.22,201.15 675.83,201.15 676.45,201.15 677.06,201.15" stroke="#ff0000"/>
<polyline points="371.54,194.56 372.15,194.65 372.77,194.73 373.38,194.82 373.99,194.90 374.60,194.98 375.22,195.06 375.83,195.14 376.44,195.21 377.05,195.29 377.67,195.36 378.28,195.43 378.89,195.50 379.50,195.57 380.11,195.64 380.73,195.70 381.34,195.77 381.95,195.83 382.56,195.89 383.18,195.95 383.79,196.01 384.40,196.07 385.01,196.13 385.62,196.18 386.24,196.24 386.85,196.29 387.46,196.34 388.07,196.39 388.69,196.44 389.30,196.49 389.91,196.54 390.52,196.59 391.13,196.63 391.75,196.68 392.36,196.72 392.97,196.76 393.58,196.80 394.20,196.84 394.81,196.88 395.42,196.92 396.03,196.95 396.64,196.99 397.26,197.02 397.87,197.06 398.48,197.09 399.09,197.12 399.71,197.15 400.32,197.18 400.93,197.21 401.54,197.24 402.16,197.26 402.77,197.29 403.38,197.31 403.99,197.34 404.60,197.36 405.22,197.38 405.83,197.40 406.44,197.42 407.05,197.44 407.67,197.46 408.28,197.47 408.89,197.49 409.50,197.50 410.11,197.52 410.73,197.53 411.34,197.54 411.95,197.55 412.56,197.56 413.18,197.57 413.79,197.58 414.40,197.58 415.01,197.59 415.62,197.59 416.24,197.59 416.85,197.60 417.46,197.60 418.07,197.60 418.69,197.60 419.30,197.59 419.91,197.59 420.52,197.58 421.14,197.58 421.75,197.57 422.36,197.56 422.97,197.55 423.58,197.54 424.20,197.53 424.81,197.51 425.42,197.50 426.03,197.48 426.65,197.46 427.26,197.44 427.87,197.42 428.48,197.39 429.09,197.37 429.71,197.34 430.32,197.31 430.93,197.28 431.54,197.24 432.16,197.21 432.77,197.17 433.38,197.13 433.99,197.09 434.60,197.04 435.22,196.99 435.83,196.94 436.44,196.89 437.05,196.83 437.67,196.78 438.28,196.71 438.89,196.65 439.50,196.58 440.12,196.51 440.73,196.43 441.34,196.35 441.95,196.27 442.56,196.18 443.18,196.09 443.79,195.99 444.40,195.89 445.01,195.78 445.63,195.67 446.24,195.55 446.85,195.43 447.46,195.30 448.07,195.16 448.69,195.02 449.30,194.87 449.91,194.71 450.52,194.54 451.14,194.37 451.75,194.19 452.36,193.99 452.97,193.79 453.58,193.58 454.20,193.36 454.81,193.12 455.42,192.88 456.03,192.62 456.65,192.35 457.26,192.07 457.87,191.77 458.48,191.45 459.09,191.12 459.71,190.78 460.32,190.41 460.93,190.03 461.54,189.63 462.16,189.21 462.77,188.77 463.38,188.31 463.99,187.83 464.61,187.32 465.22,186.79 465.83,186.23 466.44,185.65 467.05,185.04 467.67,184.40 468.28,183.74 468.89,183.04 469.50,182.32 470.12,181.57 470.73,180.78 471.34,179.97 471.95,179.12 472.56,178.24 473.18,177.33 473.79,176.39 474.40,175.42 475.01,174.41 475.63,173.38 476.24,172.32 476.85,171.22 477.46,170.11 478.07,168.96 478.69,167.80 479.30,166.61 479.91,165.41 480.52,164.18 481.14,162.95 481.75,161.70 482.36,160.45 482.97,159.19 483.59,157.93 484.20,156.68 484.81,155.43 485.42,154.19 486.03,152.97 486.65,151.77 487.26,150.59 487.87,149.43 488.48,148.31 489.10,147.22 489.71,146.17 490.32,145.15 490.93,144.19 491.54,143.27 492.16,142.40 492.77,141.58 493.38,140.81 493.99,140.11 494.61,139.46 495.22,138.86 495.83,138.33 496.44,137.86 497.05,137.45 497.67,137.09 498.28,136.80 498.89,136.57 499.50,136.39 500.12,136.27 500.73,136.21 501.34,136.20 501.95,136.24 502.56,136.33 503.18,136.47 503.79,136.65 504.40,136.88 505.01,137.15 505.63,137.45 506.24,137.80 506.85,138.17 507.46,138.58 508.08,139.02 508.69,139.48 509.30,139.97 509.91,140.48 510.52,141.01 511.14,141.55 511.75,142.12 512.36,142.70 512.97,143.28 513.59,143.89 514.20,144.50 514.81,145.11 515.42,145.74 516.03,146.37 516.65,147.00 517.26,147.64 517.87,148.27 518.48,148.91 519.10,149.55 519.71,150.19 520.32,150.83 520.93,151.47 521.54,152.10 522.16,152.73 522.77,153.36 523.38,153.98 523.99,154.60 524.61,155.22 525.22,155.83 525.83,156.44 526.44,157.04 527.06,157.64 527.67,158.23 528.28,158.82 528.89,159.40 529.50,159.98 530.12,160.55 530.73,161.12 531.34,161.68 531.95,162.23 532.57,162.78 533.18,163.32 533.79,163.86 534.40,164.39 535.01,164.92 535.63,165.44 536.24,165.96 536.85,166.47 537.46,166.97 538.08,167.47 538.69,167.96 539.30,168.45 539.91,168.93 540.52,169.41 541.14,169.88 541.75,170.34 542.36,170.80 542.97,171.25 543.59,171.70 544.20,172.15 544.81,172.59 545.42,173.02 546.04,173.45 546.65,173.87 547.26,174.28 547.87,174.70 548.48,175.10 549.10,175.50 549.71,175.90 550.32,176.29 550.93,176.68 551.55,177.06 552.16,177.44 552.77,177.81 553.38,178.17 553.99,178.54 554.61,178.89 555.22,179.25 555.83,179.59 556.44,179.94 557.06,180.27 557.67,180.61 558.28,180.94 558.89,181.26 559.50,181.58 560.12,181.90 560.73,182.21 561.34,182.51 561.95,182.82 562.57,183.12 563.18,183.41 563.79,183.70 564.40,183.98 565.01,184.27 565.63,184.54 566.24,184.82 566.85,185.09 567.46,185.35 568.08,185.61 568.69,185.87 569.30,186.13 569.91,186.38 570.53,186.62 571.14,186.86 571.75,187.10 572.36,187.34 572.97,187.57 573.59,187.80 574.20,188.02 574.81,188.25 575.42,188.46 576.04,188.68 576.65,188.89 577.26,189.10 577.87,189.30 578.48,189.51 579.10,189.70 579.71,189.90 580.32,190.09 580.93,190.28 581.55,190.47 582.16,190.65 582.77,190.83 583.38,191.01 583.99,191.18 584.61,191.36 585.22,191.53 585.83,191.69 586.44,191.86 587.06,192.02 587.67,192.18 588.28,192.33 588.89,192.49 589.51,192.64 590.12,192.79 590.73,192.93 591.34,193.07 591.95,193.22 592.57,193.36 593.18,193.49 593.79,193.63 594.40,193.76 595.02,193.89 595.63,194.02 596.24,194.14 596.85,194.27 597.46,194.39 598.08,194.51 598.69,194.62 599.30,194.74 599.91,194.85 600.53,194.96 601.14,195.07 601.75,195.18 602.36,195.29 602.97,195.39 603.59,195.50 604.20,195.60 604.81,195.69 605.42,195.79 606.04,195.89 606.65,195.98 607.26,196.07 607.87,196.16 608.48,196.25 609.10,196.34 609.71,196.43 610.32,196.51 610.93,196.60 611.55,196.68 612.16,196.76 612.77,196.84 613.38,196.91 614.00,196.99 614.61,197.07 615.22,197.14 615.83,197.21 616.44,197.28 617.06,197.35 617.67,197.42 618.28,197.49 618.89,197.55 619.51,197.62 620.12,197.68 620.73,197.75 621.34,197.81 621.95,197.87 622.57,197.93 623.18,197.99 623.79,198.04 624.40,198.10 625.02,198.15 625.63,198.21 626.24,198.26 626.85,198.32 627.46,198.37 628.08,198.42 628.69,198.47 629.30,198.52 629.91,198.56 630.53,198.61 631.14,198.66 631.75,198.70 632.36,198.75 632.98,198.79 633.59,198.83 634.20,198.88 634.81,198.92 635.42,198.96 636.04,199.00 636.65,199.04 637.26,199.08 637.87,199.11 638.49,199.15 639.10,199.19 639.71,199.22 640.32,199.26 640.93,199.29 641.55,199.33 642.16,199.36 642.77,199.39 643.38,199.43 644.00,199.46 644.61,199.49 645.22,199.52 645.83,199.55 646.44,199.58 647.06,199.61 647.67,199.64 648.28,199.66 648.89,199.69 649.51,199.72 650.12,199.74 650.73,199.77 651.34,199.80 651.96,199.82 652.57,199.84 653.18,199.87 653.79,199.89 654.40,199.92 655.02,199.94 655.63,199.96 656.24,199.98 656.85,200.00 657.47,200.02 658.08,200.05 658.69,200.07 659.30,200.09 659.91,200.11 660.53,200.12 661.14,200.14 661.75,200.16 662.36,200.18 662.98,200.20 663.59,200.22 664.20,200.23 664.81,200.25 665.42,200.27 666.04,200.28 666.65,200.30 667.26,200.31 667.87,200.33 668.49,200.34 669.10,200.36 669.71,200.37 670.32,200.39 670.93,200.40 671.55,200.42 672.16,200.43 672.77,200.44 673.38,200.46 674.00,200.47 674.61,200.48 675.22,200.49 675.83,200.51 676.45,200.52 677.06,200.53" stroke="#00ff00"/>
<polyline points="371.54,188.56 372.15,188.72 372.77,188.88 373.38,189.03 373.99,189.18 374.60,189.33 375.22,189.48 375.83,189.62 376.44,189.76 377.05,189.90 377.67,190.03 378.28,190.16 378.89,190.29 379.50,190.42 380.11,190.55 380.73,190.67 381.34,190.79 381.95,190.91 382.56,191.02 383.18,191.13 383.79,191.24 384.40,191.35 385.01,191.46 385.62,191.56 386.24,191.66 386.85,191.76 387.46,191.86 388.07,191.96 388.69,192.05 389.30,192.14 389.91,192.23 390.52,192.32 391.13,192.40 391.75,192.48 392.36,192.56 392.97,192.64 393.58,192.72 394.20,192.79 394.81,192.87 395.42,192.94 396.03,193.00 396.64,193.07 397.26,193.14 397.87,193.20 398.48,193.26 399.09,193.32 399.71,193.38 400.32,193.43 400.93,193.49 401.54,193.54 402.16,193.59 402.77,193.64 403.38,193.68 403.99,193.73 404.60,193.77 405.22,193.81 405.83,193.85 406.44,193.89 407.05,193.92 407.67,193.95 408.28,193.99 408.89,194.02 409.50,194.04 410.11,194.07 410.73,194.09 411.34,194.12 411.95,194.14 412.56,194.15 413.18,194.17 413.79,194.18 414.40,194.20 415.01,194.21 415.62,194.21 416.24,194.22 416.85,194.22 417.46,194.23 418.07,194.22 418.69,194.22 419.30,194.22 419.91,194.21 420.52,194.20 421.14,194.19 421.75,194.17 422.36,194.16 422.97,194.14 423.58,194.11 424.20,194.09 424.81,194.06 425.42,194.03 426.03,194.00 426.65,193.96 427.26,193.92 427.87,193.88 428.48,193.83 429.09,193.78 429.71,193.73 430.32,193.68 430.93,193.62 431.54,193.55 432.16,193.48 432.77,193.41 433.38,193.34 433.99,193.26 434.60,193.17 435.22,193.08 435.83,192.99 436.44,192.89 437.05,192.78 437.67,192.67 438.28,192.55 438.89,192.43 439.50,192.30 440.12,192.17 440.73,192.03 441.34,191.88 441.95,191.72 442.56,191.56 443.18,191.38 443.79,191.20 444.40,191.01 445.01,190.81 445.63,190.61 446.24,190.39 446.85,190.16 447.46,189.92 448.07,189.67 448.69,189.40 449.30,189.13 449.91,188.84 450.52,188.53 451.14,188.21 451.75,187.88 452.36,187.53 452.97,187.17 453.58,186.78 454.20,186.38 454.81,185.96 455.42,185.52 456.03,185.06 456.65,184.58 457.26,184.07 457.87,183.54 458.48,182.99 459.09,182.41 459.71,181.80 460.32,181.17 460.93,180.50 461.54,179.81 462.16,179.09 462.77,178.33 463.38,177.54 463.99,176.72 464.61,175.87 465.22,174.97 465.83,174.04 466.44,173.07 467.05,172.07 467.67,171.02 468.28,169.94 468.89,168.81 469.50,167.65 470.12,166.44 470.73,165.20 471.34,163.91 471.95,162.58 472.56,161.21 473.18,159.81 473.79,158.37 474.40,156.89 475.01,155.37 475.63,153.82 476.24,152.24 476.85,150.63 477.46,149.00 478.07,147.34 478.69,145.66 479.30,143.96 479.91,142.25 480.52,140.53 481.14,138.80 481.75,137.07 482.36,135.34 482.97,133.62 483.59,131.91 484.20,130.22 484.81,128.55 485.42,126.90 486.03,125.28 486.65,123.69 487.26,122.14 487.87,120.64 488.48,119.18 489.10,117.78 489.71,116.43 490.32,115.13 490.93,113.90 491.54,112.74 492.16,111.63 492.77,110.60 493.38,109.64 493.99,108.76 494.61,107.95 495.22,107.21 495.83,106.55 496.44,105.96 497.05,105.45 497.67,105.01 498.28,104.65 498.89,104.36 499.50,104.14 500.12,104.00 500.73,103.92 501.34,103.90 501.95,103.95 502.56,104.07 503.18,104.24 503.79,104.46 504.40,104.75 505.01,105.08 505.63,105.46 506.24,105.88 506.85,106.35 507.46,106.86 508.08,107.40 508.69,107.98 509.30,108.58 509.91,109.22 510.52,109.89 511.14,110.57 511.75,111.28 512.36,112.01 512.97,112.76 513.59,113.52 514.20,114.29 514.81,115.08 515.42,115.88 516.03,116.68 516.65,117.50 517.26,118.32 517.87,119.14 518.48,119.97 519.10,120.80 519.71,121.63 520.32,122.46 520.93,123.29 521.54,124.13 522.16,124.96 522.77,125.79 523.38,126.62 523.99,127.44 524.61,128.26 525.22,129.08 525.83,129.90 526.44,130.71 527.06,131.52 527.67,132.32 528.28,133.12 528.89,133.91 529.50,134.70 530.12,135.48 530.73,136.26 531.34,137.04 531.95,137.80 532.57,138.57 533.18,139.32 533.79,140.08 534.40,140.82 535.01,141.56 535.63,142.30 536.24,143.03 536.85,143.75 537.46,144.47 538.08,145.18 538.69,145.89 539.30,146.59 539.91,147.29 540.52,147.98 541.14,148.66 541.75,149.34 542.36,150.01 542.97,150.68 543.59,151.34 544.20,151.99 544.81,152.64 545.42,153.29 546.04,153.92 546.65,154.55 547.26,155.18 547.87,155.80 548.48,156.41 549.10,157.02 549.71,157.62 550.32,158.22 550.93,158.81 551.55,159.39 552.16,159.97 552.77,160.55 553.38,161.11 553.99,161.67 554.61,162.23 555.22,162.78 555.83,163.32 556.44,163.86 557.06,164.39 557.67,164.92 558.28,165.44 558.89,165.96 559.50,166.47 560.12,166.97 560.73,167.47 561.34,167.96 561.95,168.45 562.57,168.93 563.18,169.41 563.79,169.88 564.40,170.34 565.01,170.80 565.63,171.26 566.24,171.70 566.85,172.15 567.46,172.59 568.08,173.02 568.69,173.45 569.30,173.87 569.91,174.29 570.53,174.70 571.14,175.10 571.75,175.50 572.36,175.90 572.97,176.29 573.59,176.68 574.20,177.06 574.81,177.44 575.42,177.81 576.04,178.17 576.65,178.54 577.26,178.89 577.87,179.25 578.48,179.59 579.10,179.94 579.71,180.27 580.32,180.61 580.93,180.94 581.55,181.26 582.16,181.58 582.77,181.90 583.38,182.21 583.99,182.51 584.61,182.82 585.22,183.12 585.83,183.41 586.44,183.70 587.06,183.98 587.67,184.27 588.28,184.54 588.89,184.82 589.51,185.09 590.12,185.35 590.73,185.61 591.34,185.87 591.95,186.13 592.57,186.38 593.18,186.62 593.79,186.87 594.40,187.10 595.02,187.34 595.63,187.57 596.24,187.80 596.85,188.03 597.46,188.25 598.08,188.46 598.69,188.68 599.30,188.89 599.91,189.10 600.53,189.30 601.14,189.51 601.75,189.70 602.36,189.90 602.97,190.09 603.59,190.28 604.20,190.47 604.81,190.65 605.42,190.83 606.04,191.01 606.65,191.18 607.26,191.36 607.87,191.53 608.48,191.69 609.10,191.86 609.71,192.02 610.32,192.18 610.93,192.33 611.55,192.49 612.16,192.64 612.77,192.79 613.38,192.93 614.00,193.08 614.61,193.22 615.22,193.36 615.83,193.49 616.44,193.63 617.06,193.76 617.67,193.89 618.28,194.02 618.89,194.14 619.51,194.27 620.12,194.39 620.73,194.51 621.34,194.62 621.95,194.74 622.57,194.85 623.18,194.96 623.79,195.07 624.40,195.18 625.02,195.29 625.63,195.39 626.24,195.50 626.85,195.60 627.46,195.69 628.08,195.79 628.69,195.89 629.30,195.98 629.91,196.07 630.53,196.16 631.14,196.25 631.75,196.34 632.36,196.43 632.98,196.51 633.59,196.60 634.20,196.68 634.81,196.76 635.42,196.84 636.04,196.91 636.65,196.99 637.26,197.07 637.87,197.14 638.49,197.21 639.10,197.28 639.71,197.35 640.32,197.42 640.93,197.49 641.55,197.55 642.16,197.62 642.77,197.68 643.38,197.75 644.00,197.81 644.61,197.87 645.22,197.93 645.83,197.99 646.44,198.04 647.06,198.10 647.67,198.16 648.28,198.21 648.89,198.26 649.51,198.32 650.12,198.37 650.73,198.42 651.34,198.47 651.96,198.52 652.57,198.56 653.18,198.61 653.79,198.66 654.40,198.70 655.02,198.75 655.63,198.79 656.24,198.83 656.85,198.88 657.47,198.92 658.08,198.96 658.69,199.00 659.30,199.04 659.91,199.08 660.53,199.11 661.14,199.15 661.75,199.19 662.36,199.22 662.98,199.26 663.59,199.29 664.20,199.33 664.81,199.36 665.42,199.39 666.04,199.43 666.65,199.46 667.26,199.49 667.87,199.52 668.49,199.55 669.10,199.58 669.71,199.61 670.32,199.64 670.93,199.66 671.55,199.69 672.16,199.72 672.77,199.74 673.38,199.77 674.00,199.80 674.61,199.82 675.22,199.84 675.83,199.87 676.45,199.89 677.06,199.92" stroke="#0000ff"/>
<polyline points="371.54,177.98 372.15,178.25 372.77,178.52 373.38,178.78 373.99,179.04 374.60,179.29 375.22,179.54 375.83,179.79 376.44,180.03 377.05,180.27 377.67,180.50 378.28,180.73 378.89,180.96 379.50,181.18 380.11,181.40 380.73,181.61 381.34,181.82 381.95,182.03 382.56,182.23 383.18,182.43 383.79,182.62 384.40,182.81 385.01,183.00 385.62,183.18 386.24,183.36 386.85,183.54 387.46,183.71 388.07,183.88 388.69,184.04 389.30,184.20 389.91,184.36 390.52,184.51 391.13,184.66 391.75,184.81 392.36,184.96 392.97,185.10 393.58,185.23 394.20,185.37 394.81,185.50 395.42,185.62 396.03,185.75 396.64,185.87 397.26,185.98 397.87,186.10 398.48,186.21 399.09,186.31 399.71,186.42 400.32,186.52 400.93,186.61 401.54,186.71 402.16,186.80 402.77,186.88 403.38,186.97 403.99,187.05 404.60,187.12 405.22,187.20 405.83,187.27 406.44,187.34 407.05,187.40 407.67,187.46 408.28,187.52 408.89,187.57 409.50,187.62 410.11,187.67 410.73,187.71 411.34,187.75 411.95,187.79 412.56,187.82 413.18,187.85 413.79,187.88 414.40,187.90 415.01,187.92 415.62,187.93 416.24,187.94 416.85,187.95 417.46,187.95 418.07,187.95 418.69,187.95 419.30,187.94 419.91,187.92 420.52,187.91 421.14,187.88 421.75,187.86 422.36,187.83 422.97,187.79 423.58,187.75 424.20,187.70 424.81,187.65 425.42,187.60 426.03,187.54 426.65,187.47 427.26,187.40 427.87,187.32 428.48,187.24 429.09,187.15 429.71,187.06 430.32,186.95 430.93,186.85 431.54,186.73 432.16,186.61 432.77,186.48 433.38,186.34 433.99,186.20 434.60,186.04 435.22,185.88 435.83,185.71 436.44,185.53 437.05,185.35 437.67,185.15 438.28,184.94 438.89,184.72 439.50,184.49 440.12,184.25 440.73,184.00 441.34,183.74 441.95,183.46 442.56,183.17 443.18,182.86 443.79,182.55 444.40,182.21 445.01,181.87 445.63,181.50 446.24,181.12 446.85,180.72 447.46,180.31 448.07,179.87 448.69,179.42 449.30,178.94 449.91,178.44 450.52,177.92 451.14,177.38 451.75,176.82 452.36,176.23 452.97,175.61 453.58,174.97 454.20,174.29 454.81,173.59 455.42,172.86 456.03,172.10 456.65,171.31 457.26,170.48 457.87,169.62 458.48,168.72 459.09,167.79 459.71,166.82 460.32,165.81 460.93,164.76 461.54,163.67 462.16,162.53 462.77,161.36 463.38,160.14 463.99,158.88 464.61,157.57 465.22,156.22 465.83,154.82 466.44,153.37 467.05,151.88 467.67,150.34 468.28,148.75 468.89,147.12 469.50,145.44 470.12,143.72 470.73,141.95 471.34,140.14 471.95,138.29 472.56,136.40 473.18,134.47 473.79,132.50 474.40,130.50 475.01,128.47 475.63,126.40 476.24,124.32 476.85,122.21 477.46,120.08 478.07,117.93 478.69,115.78 479.30,113.62 479.91,111.45 480.52,109.29 481.14,107.13 481.75,104.98 482.36,102.85 482.97,100.74 483.59,98.66 484.20,96.61 484.81,94.59 485.42,92.61 486.03,90.68 486.65,88.79 487.26,86.96 487.87,85.19 488.48,83.48 489.10,81.83 489.71,80.26 490.32,78.76 490.93,77.33 491.54,75.98 492.16,74.72 492.77,73.53 493.38,72.43 493.99,71.42 494.61,70.49 495.22,69.65 495.83,68.89 496.44,68.23 497.05,67.64 497.67,67.15 498.28,66.74 498.89,66.41 499.50,66.16 500.12,66.00 500.73,65.91 501.34,65.89 501.95,65.95 502.56,66.08 503.18,66.27 503.79,66.53 504.40,66.85 505.01,67.22 505.63,67.65 506.24,68.14 506.85,68.67 507.46,69.25 508.08,69.86 508.69,70.52 509.30,71.22 509.91,71.95 510.52,72.71 511.14,73.50 511.75,74.31 512.36,75.15 512.97,76.01 513.59,76.89 514.20,77.78 514.81,78.70 515.42,79.62 516.03,80.56 516.65,81.51 517.26,82.46 517.87,83.43 518.48,84.40 519.10,85.37 519.71,86.35 520.32,87.34 520.93,88.32 521.54,89.31 522.16,90.30 522.77,91.29 523.38,92.27 523.99,93.26 524.61,94.25 525.22,95.23 525.83,96.22 526.44,97.20 527.06,98.18 527.67,99.15 528.28,100.13 528.89,101.10 529.50,102.06 530.12,103.03 530.73,103.98 531.34,104.94 531.95,105.89 532.57,106.84 533.18,107.78 533.79,108.72 534.40,109.66 535.01,110.59 535.63,111.51 536.24,112.43 536.85,113.35 537.46,114.26 538.08,115.17 538.69,116.08 539.30,116.97 539.91,117.87 540.52,118.76 541.14,119.64 541.75,120.52 542.36,121.40 542.97,122.26 543.59,123.13 544.20,123.99 544.81,124.84 545.42,125.69 546.04,126.54 546.65,127.38 547.26,128.21 547.87,129.04 548.48,129.86 549.10,130.68 549.71,131.49 550.32,132.30 550.93,133.10 551.55,133.90 552.16,134.69 552.77,135.48 553.38,136.26 553.99,137.03 554.61,137.80 555.22,138.57 555.83,139.32 556.44,140.08 557.06,140.82 557.67,141.56 558.28,142.30 558.89,143.03 559.50,143.75 560.12,144.47 560.73,145.19 561.34,145.89 561.95,146.59 562.57,147.29 563.18,147.98 563.79,148.66 564.40,149.34 565.01,150.01 565.63,150.68 566.24,151.34 566.85,151.99 567.46,152.64 568.08,153.29 568.69,153.92 569.30,154.56 569.91,155.18 570.53,155.80 571.14,156.41 571.75,157.02 572.36,157.62 572.97,158.22 573.59,158.81 574.20,159.39 574.81,159.97 575.42,160.55 576.04,161.11 576.65,161.67 577.26,162.23 577.87,162.78 578.48,163.32 579.10,163.86 579.71,164.39 580.32,164.92 580.93,165.44 581.55,165.96 582.16,166.47 582.77,166.97 583.38,167.47 583.99,167.96 584.61,168.45 585.22,168.93 585.83,169.41 586.44,169.88 587.06,170.34 587.67,170.80 588.28,171.26 588.89,171.70 589.51,172.15 590.12,172.59 590.73,173.02 591.34,173.45 591.95,173.87 592.57,174.29 593.18,174.70 593.79,175.10 594.40,175.51 595.02,175.90 595.63,176.29 596.24,176.68 596.85,177.06 597.46,177.44 598.08,177.81 598.69,178.18 599.30,178.54 599.91,178.89 600.53,179.25 601.14,179.59 601.75,179.94 602.36,180.27 602.97,180.61 603.59,180.94 604.20,181.26 604.81,181.58 605.42,181.90 606.04,182.21 606.65,182.52 607.26,182.82 607.87,183.12 608.48,183.41 609.10,183.70 609.71,183.99 610.32,184.27 610.93,184.54 611.55,184.82 612.16,185.09 612.77,185.35 613.38,185.61 614.00,185.87 614.61,186.13 615.22,186.38 615.83,186.62 616.44,186.87 617.06,187.10 617.67,187.34 618.28,187.57 618.89,187.80 619.51,188.03 620.12,188.25 620.73,188.46 621.34,188.68 621.95,188.89 622.57,189.10 623.18,189.30 623.79,189.51 624.40,189.70 625.02,189.90 625.63,190.09 626.24,190.28 626.85,190.47 627.46,190.65 628.08,190.83 628.69,191.01 629.30,191.18 629.91,191.36 630.53,191.53 631.14,191.69 631.75,191.86 632.36,192.02 632.98,192.18 633.59,192.33 634.20,192.49 634.81,192.64 635.42,192.79 636.04,192.93 636.65,193.08 637.26,193.22 637.87,193.36 638.49,193.49 639.10,193.63 639.71,193.76 640.32,193.89 640.93,194.02 641.55,194.14 642.16,194.27 642.77,194.39 643.38,194.51 644.00,194.62 644.61,194.74 645.22,194.85 645.83,194.96 646.44,195.07 647.06,195.18 647.67,195.29 648.28,195.39 648.89,195.50 649.51,195.60 650.12,195.69 650.73,195.79 651.34,195.89 651.96,195.98 652.57,196.07 653.18,196.17 653.79,196.25 654.40,196.34 655.02,196.43 655.63,196.51 656.24,196.60 656.85,196.68 657.47,196.76 658.08,196.84 658.69,196.91 659.30,196.99 659.91,197.07 660.53,197.14 661.14,197.21 661.75,197.28 662.36,197.35 662.98,197.42 663.59,197.49 664.20,197.55 664.81,197.62 665.42,197.68 666.04,197.75 666.65,197.81 667.26,197.87 667.87,197.93 668.49,197.99 669.10,198.04 669.71,198.10 670.32,198.16 670.93,198.21 671.55,198.26 672.16,198.32 672.77,198.37 673.38,198.42 674.00,198.47 674.61,198.52 675.22,198.56 675.83,198.61 676.45,198.66 677.06,198.70" stroke="#00ffff"/>
<polyline points="371.54,153.63 372.15,154.11 372.77,154.57 373.38,155.04 373.99,155.49 374.60,155.94 375.22,156.38 375.83,156.82 376.44,157.24 377.05,157.67 377.67,158.09 378.28,158.50 378.89,158.90 379.50,159.30 380.11,159.69 380.73,160.08 381.34,160.46 381.95,160.83 382.56,161.20 383.18,161.56 383.79,161.92 384.40,162.27 385.01,162.61 385.62,162.95 386.24,163.28 386.85,163.61 387.46,163.93 388.07,164.24 388.69,164.55 389.30,164.85 389.91,165.14 390.52,165.43 391.13,165.72 391.75,165.99 392.36,166.26 392.97,166.53 393.58,166.79 394.20,167.04 394.81,167.29 395.42,167.53 396.03,167.77 396.64,168.00 397.26,168.22 397.87,168.44 398.48,168.65 399.09,168.85 399.71,169.05 400.32,169.24 400.93,169.43 401.54,169.61 402.16,169.79 402.77,169.96 403.38,170.12 403.99,170.27 404.60,170.42 405.22,170.57 405.83,170.70 406.44,170.84 407.05,170.96 407.67,171.08 408.28,171.19 408.89,171.30 409.50,171.39 410.11,171.49 410.73,171.57 411.34,171.65 411.95,171.72 412.56,171.79 413.18,171.84 413.79,171.89 414.40,171.94 415.01,171.97 415.62,172.00 416.24,172.02 416.85,172.04 417.46,172.04 418.07,172.04 418.69,172.03 419.30,172.01 419.91,171.99 420.52,171.95 421.14,171.91 421.75,171.86 422.36,171.80 422.97,171.73 423.58,171.65 424.20,171.56 424.81,171.46 425.42,171.35 426.03,171.23 426.65,171.10 427.26,170.96 427.87,170.81 428.48,170.65 429.09,170.47 429.71,170.29 430.32,170.09 430.93,169.88 431.54,169.66 432.16,169.42 432.77,169.17 433.38,168.91 433.99,168.63 434.60,168.33 435.22,168.03 435.83,167.70 436.44,167.36 437.05,167.00 437.67,166.63 438.28,166.23 438.89,165.82 439.50,165.39 440.12,164.94 440.73,164.47 441.34,163.98 441.95,163.46 442.56,162.93 443.18,162.37 443.79,161.78 444.40,161.17 445.01,160.54 445.63,159.88 446.24,159.19 446.85,158.48 447.46,157.73 448.07,156.96 448.69,156.15 449.30,155.32 449.91,154.45 450.52,153.55 451.14,152.61 451.75,151.63 452.36,150.62 452.97,149.58 453.58,148.49 454.20,147.37 454.81,146.20 455.42,144.99 456.03,143.74 456.65,142.45 457.26,141.11 457.87,139.73 458.48,138.30 459.09,136.83 459.71,135.31 460.32,133.74 460.93,132.12 461.54,130.46 462.16,128.74 462.77,126.98 463.38,125.17 463.99,123.30 464.61,121.39 465.22,119.43 465.83,117.43 466.44,115.37 467.05,113.27 467.67,111.12 468.28,108.93 468.89,106.69 469.50,104.41 470.12,102.09 470.73,99.73 471.34,97.34 471.95,94.91 472.56,92.45 473.18,89.96 473.79,87.45 474.40,84.91 475.01,82.35 475.63,79.78 476.24,77.19 476.85,74.60 477.46,72.00 478.07,69.40 478.69,66.80 479.30,64.21 479.91,61.64 480.52,59.08 481.14,56.55 481.75,54.04 482.36,51.56 482.97,49.12 483.59,46.72 484.20,44.37 484.81,42.06 485.42,39.82 486.03,37.63 486.65,35.50 487.26,33.45 487.87,31.46 488.48,29.55 489.10,27.72 489.71,25.97 490.32,24.31 490.93,22.73 491.54,21.25 492.16,19.85 492.77,18.55 493.38,17.35 493.99,16.24 494.61,15.22 495.22,14.30 495.83,13.48 496.44,12.75 497.05,12.12 497.67,11.58 498.28,11.13 498.89,10.78 499.50,10.51 500.12,10.33 500.73,10.23 501.34,10.22 501.95,10.28 502.56,10.42 503.18,10.63 503.79,10.91 504.40,11.25 505.01,11.66 505.63,12.13 506.24,12.66 506.85,13.24 507.46,13.86 508.08,14.54 508.69,15.26 509.30,16.02 509.91,16.82 510.52,17.65 511.14,18.51 511.75,19.41 512.36,20.33 512.97,21.28 513.59,22.25 514.20,23.23 514.81,24.24 515.42,25.27 516.03,26.30 516.65,27.36 517.26,28.42 517.87,29.49 518.48,30.58 519.10,31.67 519.71,32.76 520.32,33.87 520.93,34.97 521.54,36.09 522.16,37.20 522.77,38.32 523.38,39.44 523.99,40.56 524.61,41.68 525.22,42.80 525.83,43.92 526.44,45.05 527.06,46.17 527.67,47.29 528.28,48.41 528.89,49.53 529.50,50.64 530.12,51.76 530.73,52.87 531.34,53.99 531.95,55.10 532.57,56.20 533.18,57.31 533.79,58.41 534.40,59.52 535.01,60.61 535.63,61.71 536.24,62.81 536.85,63.90 537.46,64.99 538.08,66.07 538.69,67.16 539.30,68.24 539.91,69.32 540.52,70.39 541.14,71.47 541.75,72.54 542.36,73.60 542.97,74.67 543.59,75.73 544.20,76.79 544.81,77.84 545.42,78.89 546.04,79.94 546.65,80.99 547.26,82.03 547.87,83.07 548.48,84.11 549.10,85.14 549.71,86.17 550.32,87.19 550.93,88.22 551.55,89.23 552.16,90.25 552.77,91.26 553.38,92.27 553.99,93.27 554.61,94.27 555.22,95.27 555.83,96.26 556.44,97.25 557.06,98.24 557.67,99.22 558.28,100.20 558.89,101.17 559.50,102.14 560.12,103.10 560.73,104.06 561.34,105.02 561.95,105.97 562.57,106.92 563.18,107.86 563.79,108.80 564.40,109.74 565.01,110.67 565.63,111.60 566.24,112.52 566.85,113.43 567.46,114.35 568.08,115.25 568.69,116.16 569.30,117.05 569.91,117.95 570.53,118.84 571.14,119.72 571.75,120.60 572.36,121.47 572.97,122.34 573.59,123.21 574.20,124.07 574.81,124.92 575.42,125.77 576.04,126.61 576.65,127.45 577.26,128.29 577.87,129.11 578.48,129.94 579.10,130.75 579.71,131.57 580.32,132.37 580.93,133.18 581.55,133.97 582.16,134.76 582.77,135.55 583.38,136.33 583.99,137.10 584.61,137.87 585.22,138.63 585.83,139.39 586.44,140.14 587.06,140.89 587.67,141.63 588.28,142.37 588.89,143.10 589.51,143.82 590.12,144.54 590.73,145.25 591.34,145.96 591.95,146.66 592.57,147.35 593.18,148.04 593.79,148.72 594.40,149.40 595.02,150.07 595.63,150.74 596.24,151.40 596.85,152.05 597.46,152.70 598.08,153.34 598.69,153.98 599.30,154.61 599.91,155.24 600.53,155.86 601.14,156.47 601.75,157.08 602.36,157.68 602.97,158.27 603.59,158.86 604.20,159.45 604.81,160.03 605.42,160.60 606.04,161.16 606.65,161.73 607.26,162.28 607.87,162.83 608.48,163.37 609.10,163.91 609.71,164.44 610.32,164.97 610.93,165.49 611.55,166.00 612.16,166.51 612.77,167.02 613.38,167.51 614.00,168.01 614.61,168.49 615.22,168.97 615.83,169.45 616.44,169.92 617.06,170.38 617.67,170.84 618.28,171.30 618.89,171.75 619.51,172.19 620.12,172.63 620.73,173.06 621.34,173.48 621.95,173.91 622.57,174.32 623.18,174.73 623.79,175.14 624.40,175.54 625.02,175.94 625.63,176.33 626.24,176.71 626.85,177.10 627.46,177.47 628.08,177.84 628.69,178.21 629.30,178.57 629.91,178.93 630.53,179.28 631.14,179.63 631.75,179.97 632.36,180.31 632.98,180.64 633.59,180.97 634.20,181.29 634.81,181.61 635.42,181.93 636.04,182.24 636.65,182.54 637.26,182.85 637.87,183.14 638.49,183.44 639.10,183.73 639.71,184.01 640.32,184.29 640.93,184.57 641.55,184.84 642.16,185.11 642.77,185.38 643.38,185.64 644.00,185.90 644.61,186.15 645.22,186.40 645.83,186.64 646.44,186.89 647.06,187.13 647.67,187.36 648.28,187.59 648.89,187.82 649.51,188.05 650.12,188.27 650.73,188.48 651.34,188.70 651.96,188.91 652.57,189.12 653.18,189.32 653.79,189.52 654.40,189.72 655.02,189.92 655.63,190.11 656.24,190.30 656.85,190.49 657.47,190.67 658.08,190.85 658.69,191.03 659.30,191.20 659.91,191.37 660.53,191.54 661.14,191.71 661.75,191.87 662.36,192.03 662.98,192.19 663.59,192.35 664.20,192.50 664.81,192.65 665.42,192.80 666.04,192.94 666.65,193.09 667.26,193.23 667.87,193.37 668.49,193.50 669.10,193.64 669.71,193.77 670.32,193.90 670.93,194.03 671.55,194.15 672.16,194.28 672.77,194.40 673.38,194.52 674.00,194.63 674.61,194.75 675.22,194.86 675.83,194.98 676.45,195.08 677.06,195.19" stroke="#ff00ff"/>
</g>
<text transform="translate(373.00,229.90) scale(1.06,1)" text-anchor="middle" class="tk">0.01</text>
<text transform="translate(449.05,229.90) scale(1.06,1)" text-anchor="middle" class="tk">0.1</text>
<text transform="translate(524.30,229.90) scale(1.06,1)" text-anchor="middle" class="tk">1</text>
<text transform="translate(599.55,229.90) scale(1.06,1)" text-anchor="middle" class="tk">10</text>
<text transform="translate(674.80,229.90) scale(1.06,1)" text-anchor="middle" class="tk">100</text>
<text transform="translate(369.00,204.45) scale(1.06,1)" text-anchor="end" class="tk">1</text>
<text transform="translate(369.00,50.20) scale(1.06,1)" text-anchor="end" class="tk">10</text>
<clipPath id="cc"><rect x="205.20" y="258.20" width="297.60" height="213.00"/></clipPath>
<rect x="205.5" y="258.5" width="297.00" height="212.40" fill="#e0ffff"/>
<path d="M227.85,470.9v-2.2M227.85,258.5v2.2M240.93,470.9v-2.2M240.93,258.5v2.2M250.20,470.9v-2.2M250.20,258.5v2.2M257.40,470.9v-2.2M257.40,258.5v2.2M263.28,470.9v-2.2M263.28,258.5v2.2M268.25,470.9v-2.2M268.25,258.5v2.2M272.55,470.9v-2.2M272.55,258.5v2.2M276.35,470.9v-2.2M276.35,258.5v2.2M279.75,470.9v-4.3M279.75,258.5v4.3M302.10,470.9v-2.2M302.10,258.5v2.2M315.18,470.9v-2.2M315.18,258.5v2.2M324.45,470.9v-2.2M324.45,258.5v2.2M331.65,470.9v-2.2M331.65,258.5v2.2M337.53,470.9v-2.2M337.53,258.5v2.2M342.50,470.9v-2.2M342.50,258.5v2.2M346.80,470.9v-2.2M346.80,258.5v2.2M350.60,470.9v-2.2M350.60,258.5v2.2M354.00,470.9v-4.3M354.00,258.5v4.3M376.35,470.9v-2.2M376.35,258.5v2.2M389.43,470.9v-2.2M389.43,258.5v2.2M398.70,470.9v-2.2M398.70,258.5v2.2M405.90,470.9v-2.2M405.90,258.5v2.2M411.78,470.9v-2.2M411.78,258.5v2.2M416.75,470.9v-2.2M416.75,258.5v2.2M421.05,470.9v-2.2M421.05,258.5v2.2M424.85,470.9v-2.2M424.85,258.5v2.2M428.25,470.9v-4.3M428.25,258.5v4.3M450.60,470.9v-2.2M450.60,258.5v2.2M463.68,470.9v-2.2M463.68,258.5v2.2M472.95,470.9v-2.2M472.95,258.5v2.2M480.15,470.9v-2.2M480.15,258.5v2.2M486.03,470.9v-2.2M486.03,258.5v2.2M491.00,470.9v-2.2M491.00,258.5v2.2M495.30,470.9v-2.2M495.30,258.5v2.2M499.10,470.9v-2.2M499.10,258.5v2.2M205.5,466.50h4.3M502.5,466.50h-4.3M205.5,435.19h2.2M502.5,435.19h-2.2M205.5,416.88h2.2M502.5,416.88h-2.2M205.5,403.89h2.2M502.5,403.89h-2.2M205.5,393.81h2.2M502.5,393.81h-2.2M205.5,385.57h2.2M502.5,385.57h-2.2M205.5,378.61h2.2M502.5,378.61h-2.2M205.5,372.58h2.2M502.5,372.58h-2.2M205.5,367.26h2.2M502.5,367.26h-2.2M205.5,362.50h4.3M502.5,362.50h-4.3M205.5,331.19h2.2M502.5,331.19h-2.2M205.5,312.88h2.2M502.5,312.88h-2.2M205.5,299.89h2.2M502.5,299.89h-2.2M205.5,289.81h2.2M502.5,289.81h-2.2M205.5,281.57h2.2M502.5,281.57h-2.2M205.5,274.61h2.2M502.5,274.61h-2.2M205.5,268.58h2.2M502.5,268.58h-2.2M205.5,263.26h2.2M502.5,263.26h-2.2" stroke="#222" stroke-width="1" fill="none"/>
<rect x="205.5" y="258.5" width="297.00" height="212.40" fill="none" stroke="#2a2a2a" stroke-width="1"/>
<g clip-path="url(#cc)" fill="none" stroke-width="1.3" stroke-linejoin="round">
<polyline points="203.27,389.80 203.88,388.93 204.48,388.04 205.08,387.12 205.69,386.17 206.29,385.19 206.90,384.19 207.50,383.15 208.11,382.09 208.71,380.99 209.31,379.86 209.92,378.71 210.52,377.52 211.13,376.30 211.73,375.05 212.33,373.77 212.94,372.46 213.54,371.11 214.15,369.74 214.75,368.33 215.35,366.89 215.96,365.42 216.56,363.92 217.17,362.38 217.77,360.82 218.38,359.22 218.98,357.60 219.58,355.95 220.19,354.26 220.79,352.55 221.40,350.81 222.00,349.05 222.60,347.26 223.21,345.44 223.81,343.60 224.42,341.74 225.02,339.85 225.62,337.95 226.23,336.03 226.83,334.09 227.44,332.13 228.04,330.17 228.65,328.19 229.25,326.20 229.85,324.20 230.46,322.20 231.06,320.19 231.67,318.18 232.27,316.18 232.87,314.18 233.48,312.18 234.08,310.20 234.69,308.22 235.29,306.27 235.89,304.33 236.50,302.41 237.10,300.52 237.71,298.65 238.31,296.81 238.92,295.01 239.52,293.24 240.12,291.51 240.73,289.82 241.33,288.18 241.94,286.58 242.54,285.03 243.14,283.54 243.75,282.10 244.35,280.72 244.96,279.39 245.56,278.13 246.16,276.93 246.77,275.79 247.37,274.72 247.98,273.72 248.58,272.79 249.19,271.92 249.79,271.12 250.39,270.39 251.00,269.73 251.60,269.14 252.21,268.62 252.81,268.16 253.41,267.78 254.02,267.45 254.62,267.19 255.23,267.00 255.83,266.86 256.43,266.79 257.04,266.77 257.64,266.81 258.25,266.90 258.85,267.05 259.46,267.24 260.06,267.48 260.66,267.77 261.27,268.10 261.87,268.47 262.48,268.88 263.08,269.32 263.68,269.80 264.29,270.31 264.89,270.84 265.50,271.41 266.10,272.00 266.70,272.62 267.31,273.25 267.91,273.91 268.52,274.58 269.12,275.28 269.73,275.98 270.33,276.70 270.93,277.44 271.54,278.18 272.14,278.94 272.75,279.70 273.35,280.47 273.95,281.25 274.56,282.04 275.16,282.83 275.77,283.63 276.37,284.43 276.97,285.24 277.58,286.05 278.18,286.86 278.79,287.67 279.39,288.49 280.00,289.31 280.60,290.13 281.20,290.95 281.81,291.77 282.41,292.59 283.02,293.41 283.62,294.24 284.22,295.06 284.83,295.89 285.43,296.71 286.04,297.54 286.64,298.36 287.24,299.18 287.85,300.01 288.45,300.83 289.06,301.66 289.66,302.48 290.27,303.30 290.87,304.13 291.47,304.95 292.08,305.77 292.68,306.59 293.29,307.41 293.89,308.23 294.49,309.05 295.10,309.87 295.70,310.69 296.31,311.51 296.91,312.33 297.51,313.15 298.12,313.97 298.72,314.78 299.33,315.60 299.93,316.42 300.54,317.23 301.14,318.05 301.74,318.86 302.35,319.67 302.95,320.49 303.56,321.30 304.16,322.11 304.76,322.92 305.37,323.73 305.97,324.54 306.58,325.35 307.18,326.16 307.78,326.97 308.39,327.78 308.99,328.58 309.60,329.39 310.20,330.19 310.81,331.00 311.41,331.80 312.01,332.61 312.62,333.41 313.22,334.21 313.83,335.01 314.43,335.81 315.03,336.61 315.64,337.41 316.24,338.20 316.85,339.00 317.45,339.80 318.05,340.59 318.66,341.38 319.26,342.18 319.87,342.97 320.47,343.76 321.08,344.55 321.68,345.34 322.28,346.13 322.89,346.91 323.49,347.70 324.10,348.48 324.70,349.27 325.30,350.05 325.91,350.83 326.51,351.61 327.12,352.39 327.72,353.17 328.32,353.94 328.93,354.72 329.53,355.49 330.14,356.27 330.74,357.04 331.35,357.81 331.95,358.58 332.55,359.35 333.16,360.11 333.76,360.88 334.37,361.64 334.97,362.40 335.57,363.17 336.18,363.93 336.78,364.68 337.39,365.44 337.99,366.19 338.59,366.95 339.20,367.70 339.80,368.45 340.41,369.20 341.01,369.95 341.62,370.69 342.22,371.44 342.82,372.18 343.43,372.92 344.03,373.66 344.64,374.39 345.24,375.13 345.84,375.86 346.45,376.59 347.05,377.32 347.66,378.05 348.26,378.78 348.86,379.50" stroke="#ff0000"/>
<polyline points="203.27,447.63 203.88,447.84 204.48,448.05 205.08,448.26 205.69,448.47 206.29,448.67 206.90,448.87 207.50,449.06 208.11,449.25 208.71,449.44 209.31,449.63 209.92,449.81 210.52,449.99 211.13,450.16 211.73,450.34 212.33,450.51 212.94,450.67 213.54,450.84 214.15,451.00 214.75,451.15 215.35,451.31 215.96,451.46 216.56,451.61 217.17,451.76 217.77,451.90 218.38,452.04 218.98,452.18 219.58,452.31 220.19,452.44 220.79,452.57 221.40,452.70 222.00,452.82 222.60,452.94 223.21,453.06 223.81,453.18 224.42,453.29 225.02,453.40 225.62,453.51 226.23,453.61 226.83,453.71 227.44,453.81 228.04,453.91 228.65,454.00 229.25,454.09 229.85,454.18 230.46,454.27 231.06,454.35 231.67,454.43 232.27,454.51 232.87,454.59 233.48,454.66 234.08,454.73 234.69,454.80 235.29,454.86 235.89,454.92 236.50,454.98 237.10,455.04 237.71,455.09 238.31,455.15 238.92,455.19 239.52,455.24 240.12,455.28 240.73,455.32 241.33,455.36 241.94,455.40 242.54,455.43 243.14,455.46 243.75,455.49 244.35,455.51 244.96,455.53 245.56,455.55 246.16,455.56 246.77,455.57 247.37,455.58 247.98,455.59 248.58,455.59 249.19,455.59 249.79,455.59 250.39,455.58 251.00,455.57 251.60,455.55 252.21,455.54 252.81,455.51 253.41,455.49 254.02,455.46 254.62,455.43 255.23,455.39 255.83,455.35 256.43,455.31 257.04,455.26 257.64,455.20 258.25,455.15 258.85,455.08 259.46,455.02 260.06,454.94 260.66,454.87 261.27,454.78 261.87,454.70 262.48,454.60 263.08,454.51 263.68,454.40 264.29,454.29 264.89,454.17 265.50,454.05 266.10,453.92 266.70,453.78 267.31,453.64 267.91,453.49 268.52,453.33 269.12,453.16 269.73,452.99 270.33,452.81 270.93,452.61 271.54,452.41 272.14,452.20 272.75,451.98 273.35,451.75 273.95,451.50 274.56,451.25 275.16,450.99 275.77,450.71 276.37,450.42 276.97,450.12 277.58,449.80 278.18,449.47 278.79,449.13 279.39,448.77 280.00,448.39 280.60,448.00 281.20,447.59 281.81,447.16 282.41,446.72 283.02,446.25 283.62,445.77 284.22,445.27 284.83,444.74 285.43,444.19 286.04,443.63 286.64,443.03 287.24,442.42 287.85,441.78 288.45,441.11 289.06,440.42 289.66,439.70 290.27,438.95 290.87,438.18 291.47,437.37 292.08,436.54 292.68,435.67 293.29,434.78 293.89,433.85 294.49,432.90 295.10,431.91 295.70,430.89 296.31,429.83 296.91,428.75 297.51,427.63 298.12,426.48 298.72,425.30 299.33,424.09 299.93,422.84 300.54,421.57 301.14,420.26 301.74,418.93 302.35,417.57 302.95,416.18 303.56,414.77 304.16,413.34 304.76,411.88 305.37,410.41 305.97,408.91 306.58,407.40 307.18,405.88 307.78,404.35 308.39,402.81 308.99,401.26 309.60,399.71 310.20,398.17 310.81,396.63 311.41,395.09 312.01,393.56 312.62,392.05 313.22,390.56 313.83,389.08 314.43,387.63 315.03,386.21 315.64,384.82 316.24,383.45 316.85,382.13 317.45,380.84 318.05,379.60 318.66,378.40 319.26,377.25 319.87,376.15 320.47,375.10 321.08,374.10 321.68,373.16 322.28,372.28 322.89,371.45 323.49,370.69 324.10,369.98 324.70,369.33 325.30,368.75 325.91,368.22 326.51,367.76 327.12,367.36 327.72,367.01 328.32,366.73 328.93,366.50 329.53,366.33 330.14,366.21 330.74,366.15 331.35,366.14 331.95,366.18 332.55,366.27 333.16,366.40 333.76,366.58 334.37,366.80 334.97,367.06 335.57,367.36 336.18,367.70 336.78,368.07 337.39,368.47 337.99,368.90 338.59,369.36 339.20,369.84 339.80,370.35 340.41,370.88 341.01,371.43 341.62,372.00 342.22,372.58 342.82,373.18 343.43,373.79 344.03,374.42 344.64,375.06 345.24,375.70 345.84,376.36 346.45,377.02 347.05,377.69 347.66,378.37 348.26,379.05 348.86,379.73 349.47,380.42 350.07,381.11 350.68,381.80 351.28,382.49 351.89,383.19 352.49,383.88 353.09,384.58 353.70,385.28 354.30,385.97 354.91,386.67 355.51,387.36 356.11,388.05 356.72,388.74 357.32,389.43 357.93,390.12 358.53,390.81 359.14,391.49 359.74,392.17 360.34,392.86 360.95,393.53 361.55,394.21 362.16,394.88 362.76,395.55 363.36,396.22 363.97,396.89 364.57,397.55 365.18,398.21 365.78,398.87 366.38,399.53 366.99,400.18 367.59,400.83 368.20,401.47 368.80,402.12 369.41,402.76 370.01,403.40 370.61,404.03 371.22,404.67 371.82,405.30 372.43,405.92 373.03,406.55 373.63,407.17 374.24,407.78 374.84,408.40 375.45,409.01 376.05,409.62 376.65,410.22 377.26,410.82 377.86,411.42 378.47,412.01 379.07,412.60 379.68,413.19 380.28,413.78 380.88,414.36 381.49,414.94 382.09,415.51 382.70,416.08 383.30,416.65" stroke="#00ff00"/>
<polyline points="203.27,450.09 203.88,450.32 204.48,450.56 205.08,450.78 205.69,451.01 206.29,451.23 206.90,451.45 207.50,451.66 208.11,451.88 208.71,452.09 209.31,452.29 209.92,452.50 210.52,452.70 211.13,452.89 211.73,453.09 212.33,453.28 212.94,453.47 213.54,453.66 214.15,453.84 214.75,454.02 215.35,454.20 215.96,454.38 216.56,454.55 217.17,454.72 217.77,454.89 218.38,455.05 218.98,455.21 219.58,455.37 220.19,455.53 220.79,455.69 221.40,455.84 222.00,455.99 222.60,456.14 223.21,456.28 223.81,456.43 224.42,456.57 225.02,456.71 225.62,456.84 226.23,456.98 226.83,457.11 227.44,457.24 228.04,457.37 228.65,457.49 229.25,457.62 229.85,457.74 230.46,457.86 231.06,457.98 231.67,458.09 232.27,458.20 232.87,458.32 233.48,458.43 234.08,458.53 234.69,458.64 235.29,458.74 235.89,458.85 236.50,458.95 237.10,459.05 237.71,459.14 238.31,459.24 238.92,459.33 239.52,459.42 240.12,459.51 240.73,459.60 241.33,459.69 241.94,459.77 242.54,459.86 243.14,459.94 243.75,460.02 244.35,460.10 244.96,460.18 245.56,460.25 246.16,460.33 246.77,460.40 247.37,460.47 247.98,460.54 248.58,460.61 249.19,460.68 249.79,460.74 250.39,460.81 251.00,460.87 251.60,460.93 252.21,461.00 252.81,461.05 253.41,461.11 254.02,461.17 254.62,461.22 255.23,461.28 255.83,461.33 256.43,461.38 257.04,461.43 257.64,461.48 258.25,461.53 258.85,461.58 259.46,461.63 260.06,461.67 260.66,461.71 261.27,461.76 261.87,461.80 262.48,461.84 263.08,461.88 263.68,461.92 264.29,461.95 264.89,461.99 265.50,462.02 266.10,462.06 266.70,462.09 267.31,462.12 267.91,462.15 268.52,462.18 269.12,462.21 269.73,462.24 270.33,462.26 270.93,462.29 271.54,462.31 272.14,462.33 272.75,462.36 273.35,462.38 273.95,462.40 274.56,462.42 275.16,462.43 275.77,462.45 276.37,462.46 276.97,462.48 277.58,462.49 278.18,462.50 278.79,462.52 279.39,462.53 280.00,462.53 280.60,462.54 281.20,462.55 281.81,462.55 282.41,462.56 283.02,462.56 283.62,462.56 284.22,462.56 284.83,462.56 285.43,462.56 286.04,462.56 286.64,462.55 287.24,462.55 287.85,462.54 288.45,462.53 289.06,462.52 289.66,462.51 290.27,462.50 290.87,462.48 291.47,462.46 292.08,462.45 292.68,462.43 293.29,462.40 293.89,462.38 294.49,462.36 295.10,462.33 295.70,462.30 296.31,462.27 296.91,462.24 297.51,462.20 298.12,462.16 298.72,462.12 299.33,462.08 299.93,462.04 300.54,461.99 301.14,461.94 301.74,461.89 302.35,461.83 302.95,461.77 303.56,461.71 304.16,461.65 304.76,461.58 305.37,461.51 305.97,461.43 306.58,461.35 307.18,461.27 307.78,461.18 308.39,461.09 308.99,460.99 309.60,460.89 310.20,460.79 310.81,460.68 311.41,460.56 312.01,460.44 312.62,460.31 313.22,460.17 313.83,460.03 314.43,459.88 315.03,459.73 315.64,459.57 316.24,459.39 316.85,459.22 317.45,459.03 318.05,458.83 318.66,458.62 319.26,458.41 319.87,458.18 320.47,457.94 321.08,457.69 321.68,457.43 322.28,457.16 322.89,456.87 323.49,456.57 324.10,456.25 324.70,455.92 325.30,455.58 325.91,455.21 326.51,454.83 327.12,454.44 327.72,454.02 328.32,453.59 328.93,453.13 329.53,452.66 330.14,452.16 330.74,451.65 331.35,451.11 331.95,450.54 332.55,449.96 333.16,449.35 333.76,448.71 334.37,448.05 334.97,447.36 335.57,446.65 336.18,445.91 336.78,445.15 337.39,444.36 337.99,443.55 338.59,442.70 339.20,441.84 339.80,440.95 340.41,440.03 341.01,439.09 341.62,438.13 342.22,437.15 342.82,436.15 343.43,435.13 344.03,434.10 344.64,433.05 345.24,431.99 345.84,430.92 346.45,429.84 347.05,428.75 347.66,427.67 348.26,426.58 348.86,425.50 349.47,424.42 350.07,423.35 350.68,422.30 351.28,421.26 351.89,420.24 352.49,419.24 353.09,418.26 353.70,417.31 354.30,416.39 354.91,415.51 355.51,414.65 356.11,413.84 356.72,413.06 357.32,412.33 357.93,411.64 358.53,410.99 359.14,410.39 359.74,409.84 360.34,409.33 360.95,408.87 361.55,408.46 362.16,408.10 362.76,407.79 363.36,407.52 363.97,407.31 364.57,407.14 365.18,407.01 365.78,406.93 366.38,406.90 366.99,406.90 367.59,406.95 368.20,407.04 368.80,407.16 369.41,407.32 370.01,407.51 370.61,407.74 371.22,408.00 371.82,408.28 372.43,408.59 373.03,408.93 373.63,409.28 374.24,409.66 374.84,410.06 375.45,410.48 376.05,410.91 376.65,411.36 377.26,411.82 377.86,412.29 378.47,412.78 379.07,413.27 379.68,413.77 380.28,414.28 380.88,414.79 381.49,415.31 382.09,415.83 382.70,416.35 383.30,416.88 383.90,417.41 384.51,417.94 385.11,418.47 385.72,419.00 386.32,419.53 386.92,420.06 387.53,420.59 388.13,421.12 388.74,421.64 389.34,422.16 389.95,422.68 390.55,423.20 391.15,423.72 391.76,424.23 392.36,424.74 392.97,425.24 393.57,425.75 394.17,426.25 394.78,426.74 395.38,427.23 395.99,427.72 396.59,428.21 397.19,428.69 397.80,429.17 398.40,429.64 399.01,430.11 399.61,430.58 400.22,431.04 400.82,431.50 401.42,431.95 402.03,432.40 402.63,432.85 403.24,433.29 403.84,433.73 404.44,434.16" stroke="#0000ff"/>
<polyline points="214.75,454.67 215.35,454.85 215.96,455.03 216.56,455.20 217.17,455.38 217.77,455.55 218.38,455.72 218.98,455.88 219.58,456.05 220.19,456.21 220.79,456.37 221.40,456.52 222.00,456.68 222.60,456.83 223.21,456.98 223.81,457.13 224.42,457.27 225.02,457.41 225.62,457.55 226.23,457.69 226.83,457.83 227.44,457.96 228.04,458.09 228.65,458.22 229.25,458.35 229.85,458.48 230.46,458.60 231.06,458.72 231.67,458.84 232.27,458.96 232.87,459.07 233.48,459.19 234.08,459.30 234.69,459.41 235.29,459.52 235.89,459.62 236.50,459.73 237.10,459.83 237.71,459.93 238.31,460.03 238.92,460.13 239.52,460.23 240.12,460.32 240.73,460.41 241.33,460.51 241.94,460.60 242.54,460.68 243.14,460.77 243.75,460.86 244.35,460.94 244.96,461.02 245.56,461.10 246.16,461.18 246.77,461.26 247.37,461.34 247.98,461.41 248.58,461.49 249.19,461.56 249.79,461.63 250.39,461.70 251.00,461.77 251.60,461.84 252.21,461.91 252.81,461.97 253.41,462.04 254.02,462.10 254.62,462.16 255.23,462.22 255.83,462.28 256.43,462.34 257.04,462.40 257.64,462.46 258.25,462.51 258.85,462.57 259.46,462.62 260.06,462.67 260.66,462.72 261.27,462.77 261.87,462.82 262.48,462.87 263.08,462.92 263.68,462.97 264.29,463.01 264.89,463.06 265.50,463.10 266.10,463.14 266.70,463.19 267.31,463.23 267.91,463.27 268.52,463.31 269.12,463.35 269.73,463.39 270.33,463.42 270.93,463.46 271.54,463.50 272.14,463.53 272.75,463.56 273.35,463.60 273.95,463.63 274.56,463.66 275.16,463.70 275.77,463.73 276.37,463.76 276.97,463.79 277.58,463.81 278.18,463.84 278.79,463.87 279.39,463.90 280.00,463.92 280.60,463.95 281.20,463.97 281.81,464.00 282.41,464.02 283.02,464.04 283.62,464.07 284.22,464.09 284.83,464.11 285.43,464.13 286.04,464.15 286.64,464.17 287.24,464.19 287.85,464.21 288.45,464.22 289.06,464.24 289.66,464.26 290.27,464.27 290.87,464.29 291.47,464.30 292.08,464.32 292.68,464.33 293.29,464.34 293.89,464.36 294.49,464.37 295.10,464.38 295.70,464.39 296.31,464.40 296.91,464.41 297.51,464.42 298.12,464.43 298.72,464.44 299.33,464.44 299.93,464.45 300.54,464.46 301.14,464.46 301.74,464.47 302.35,464.47 302.95,464.48 303.56,464.48 304.16,464.48 304.76,464.49 305.37,464.49 305.97,464.49 306.58,464.49 307.18,464.49 307.78,464.49 308.39,464.49 308.99,464.48 309.60,464.48 310.20,464.48 310.81,464.47 311.41,464.47 312.01,464.46 312.62,464.45 313.22,464.45 313.83,464.44 314.43,464.43 315.03,464.42 315.64,464.41 316.24,464.39 316.85,464.38 317.45,464.37 318.05,464.35 318.66,464.34 319.26,464.32 319.87,464.30 320.47,464.28 321.08,464.26 321.68,464.24 322.28,464.21 322.89,464.19 323.49,464.16 324.10,464.13 324.70,464.11 325.30,464.08 325.91,464.04 326.51,464.01 327.12,463.97 327.72,463.93 328.32,463.89 328.93,463.85 329.53,463.81 330.14,463.76 330.74,463.71 331.35,463.66 331.95,463.61 332.55,463.55 333.16,463.49 333.76,463.43 334.37,463.37 334.97,463.30 335.57,463.23 336.18,463.15 336.78,463.07 337.39,462.99 337.99,462.90 338.59,462.81 339.20,462.71 339.80,462.61 340.41,462.50 341.01,462.39 341.62,462.27 342.22,462.15 342.82,462.02 343.43,461.88 344.03,461.74 344.64,461.59 345.24,461.43 345.84,461.26 346.45,461.09 347.05,460.90 347.66,460.71 348.26,460.51 348.86,460.29 349.47,460.07 350.07,459.83 350.68,459.58 351.28,459.32 351.89,459.05 352.49,458.76 353.09,458.46 353.70,458.15 354.30,457.82 354.91,457.47 355.51,457.11 356.11,456.73 356.72,456.34 357.32,455.93 357.93,455.49 358.53,455.04 359.14,454.58 359.74,454.09 360.34,453.58 360.95,453.05 361.55,452.51 362.16,451.94 362.76,451.35 363.36,450.75 363.97,450.12 364.57,449.48 365.18,448.82 365.78,448.15 366.38,447.45 366.99,446.75 367.59,446.02 368.20,445.29 368.80,444.55 369.41,443.79 370.01,443.03 370.61,442.27 371.22,441.50 371.82,440.73 372.43,439.96 373.03,439.19 373.63,438.44 374.24,437.69 374.84,436.95 375.45,436.22 376.05,435.52 376.65,434.83 377.26,434.16 377.86,433.51 378.47,432.89 379.07,432.30 379.68,431.74 380.28,431.21 380.88,430.71 381.49,430.24 382.09,429.81 382.70,429.42 383.30,429.06 383.90,428.74 384.51,428.45 385.11,428.21 385.72,428.00 386.32,427.83 386.92,427.70 387.53,427.60 388.13,427.54 388.74,427.51 389.34,427.51 389.95,427.55 390.55,427.62 391.15,427.72 391.76,427.84 392.36,427.99 392.97,428.17 393.57,428.37 394.17,428.60 394.78,428.84 395.38,429.10 395.99,429.38 396.59,429.68 397.19,429.99 397.80,430.31 398.40,430.65 399.01,430.99 399.61,431.35 400.22,431.71 400.82,432.08 401.42,432.46 402.03,432.84 402.63,433.23 403.24,433.62 403.84,434.01 404.44,434.40 405.05,434.80 405.65,435.19 406.26,435.59 406.86,435.99 407.46,436.38 408.07,436.78 408.67,437.17 409.28,437.56 409.88,437.95 410.49,438.33 411.09,438.72 411.69,439.10 412.30,439.48 412.90,439.85 413.51,440.22 414.11,440.59 414.71,440.96 415.32,441.32 415.92,441.68 416.53,442.03 417.13,442.38 417.73,442.73 418.34,443.07 418.94,443.41 419.55,443.75 420.15,444.08" stroke="#00ffff"/>
<polyline points="203.27,450.89 203.88,451.13 204.48,451.36 205.08,451.60 205.69,451.83 206.29,452.05 206.90,452.28 207.50,452.50 208.11,452.72 208.71,452.93 209.31,453.14 209.92,453.35 210.52,453.56 211.13,453.76 211.73,453.96 212.33,454.15 212.94,454.35 213.54,454.54 214.15,454.73 214.75,454.91 215.35,455.10 215.96,455.28 216.56,455.46 217.17,455.63 217.77,455.80 218.38,455.97 218.98,456.14 219.58,456.31 220.19,456.47 220.79,456.63 221.40,456.79 222.00,456.94 222.60,457.09 223.21,457.25 223.81,457.39 224.42,457.54 225.02,457.68 225.62,457.82 226.23,457.96 226.83,458.10 227.44,458.24 228.04,458.37 228.65,458.50 229.25,458.63 229.85,458.75 230.46,458.88 231.06,459.00 231.67,459.12 232.27,459.24 232.87,459.36 233.48,459.47 234.08,459.59 234.69,459.70 235.29,459.81 235.89,459.91 236.50,460.02 237.10,460.12 237.71,460.23 238.31,460.33 238.92,460.43 239.52,460.52 240.12,460.62 240.73,460.71 241.33,460.81 241.94,460.90 242.54,460.99 243.14,461.08 243.75,461.16 244.35,461.25 244.96,461.33 245.56,461.41 246.16,461.50 246.77,461.57 247.37,461.65 247.98,461.73 248.58,461.81 249.19,461.88 249.79,461.95 250.39,462.02 251.00,462.09 251.60,462.16 252.21,462.23 252.81,462.30 253.41,462.36 254.02,462.43 254.62,462.49 255.23,462.56 255.83,462.62 256.43,462.68 257.04,462.74 257.64,462.79 258.25,462.85 258.85,462.91 259.46,462.96 260.06,463.02 260.66,463.07 261.27,463.12 261.87,463.17 262.48,463.22 263.08,463.27 263.68,463.32 264.29,463.37 264.89,463.41 265.50,463.46 266.10,463.51 266.70,463.55 267.31,463.59 267.91,463.64 268.52,463.68 269.12,463.72 269.73,463.76 270.33,463.80 270.93,463.84 271.54,463.88 272.14,463.91 272.75,463.95 273.35,463.99 273.95,464.02 274.56,464.06 275.16,464.09 275.77,464.12 276.37,464.16 276.97,464.19 277.58,464.22 278.18,464.25 278.79,464.28 279.39,464.31 280.00,464.34 280.60,464.37 281.20,464.40 281.81,464.42 282.41,464.45 283.02,464.48 283.62,464.50 284.22,464.53 284.83,464.55 285.43,464.58 286.04,464.60 286.64,464.62 287.24,464.65 287.85,464.67 288.45,464.69 289.06,464.71 289.66,464.73 290.27,464.75 290.87,464.77 291.47,464.79 292.08,464.81 292.68,464.83 293.29,464.85 293.89,464.86 294.49,464.88 295.10,464.90 295.70,464.92 296.31,464.93 296.91,464.95 297.51,464.96 298.12,464.98 298.72,464.99 299.33,465.01 299.93,465.02 300.54,465.03 301.14,465.05 301.74,465.06 302.35,465.07 302.95,465.08 303.56,465.10 304.16,465.11 304.76,465.12 305.37,465.13 305.97,465.14 306.58,465.15 307.18,465.16 307.78,465.17 308.39,465.18 308.99,465.18 309.60,465.19 310.20,465.20 310.81,465.21 311.41,465.21 312.01,465.22 312.62,465.23 313.22,465.23 313.83,465.24 314.43,465.24 315.03,465.25 315.64,465.25 316.24,465.26 316.85,465.26 317.45,465.27 318.05,465.27 318.66,465.27 319.26,465.28 319.87,465.28 320.47,465.28 321.08,465.28 321.68,465.28 322.28,465.28 322.89,465.28 323.49,465.28 324.10,465.28 324.70,465.28 325.30,465.28 325.91,465.28 326.51,465.28 327.12,465.27 327.72,465.27 328.32,465.27 328.93,465.26 329.53,465.26 330.14,465.25 330.74,465.25 331.35,465.24 331.95,465.23 332.55,465.23 333.16,465.22 333.76,465.21 334.37,465.20 334.97,465.19 335.57,465.18 336.18,465.17 336.78,465.16 337.39,465.15 337.99,465.13 338.59,465.12 339.20,465.10 339.80,465.09 340.41,465.07 341.01,465.05 341.62,465.03 342.22,465.01 342.82,464.99 343.43,464.97 344.03,464.95 344.64,464.93 345.24,464.90 345.84,464.87 346.45,464.85 347.05,464.82 347.66,464.79 348.26,464.75 348.86,464.72 349.47,464.68 350.07,464.64 350.68,464.60 351.28,464.56 351.89,464.52 352.49,464.47 353.09,464.42 353.70,464.37 354.30,464.32 354.91,464.26 355.51,464.20 356.11,464.14 356.72,464.08 357.32,464.01 357.93,463.94 358.53,463.86 359.14,463.78 359.74,463.70 360.34,463.61 360.95,463.51 361.55,463.42 362.16,463.31 362.76,463.20 363.36,463.09 363.97,462.97 364.57,462.84 365.18,462.71 365.78,462.57 366.38,462.42 366.99,462.27 367.59,462.10 368.20,461.93 368.80,461.75 369.41,461.56 370.01,461.36 370.61,461.15 371.22,460.93 371.82,460.70 372.43,460.46 373.03,460.20 373.63,459.94 374.24,459.66 374.84,459.36 375.45,459.06 376.05,458.74 376.65,458.41 377.26,458.06 377.86,457.69 378.47,457.32 379.07,456.93 379.68,456.52 380.28,456.10 380.88,455.66 381.49,455.21 382.09,454.75 382.70,454.27 383.30,453.78 383.90,453.28 384.51,452.76 385.11,452.24 385.72,451.71 386.32,451.17 386.92,450.62 387.53,450.06 388.13,449.51 388.74,448.95 389.34,448.39 389.95,447.83 390.55,447.28 391.15,446.73 391.76,446.19 392.36,445.65 392.97,445.13 393.57,444.63 394.17,444.13 394.78,443.66 395.38,443.20 395.99,442.77 396.59,442.35 397.19,441.96 397.80,441.60 398.40,441.26 399.01,440.95 399.61,440.66 400.22,440.41 400.82,440.18 401.42,439.98 402.03,439.81 402.63,439.67 403.24,439.56 403.84,439.48 404.44,439.42 405.05,439.39 405.65,439.39 406.26,439.41 406.86,439.46 407.46,439.53 408.07,439.62 408.67,439.73 409.28,439.87 409.88,440.02 410.49,440.19 411.09,440.37 411.69,440.57 412.30,440.79 412.90,441.01 413.51,441.25 414.11,441.49 414.71,441.75 415.32,442.01 415.92,442.28 416.53,442.56 417.13,442.84 417.73,443.13 418.34,443.42 418.94,443.71 419.55,444.00 420.15,444.30 420.76,444.60 421.36,444.90 421.96,445.19 422.57,445.49 423.17,445.79 423.78,446.08 424.38,446.37 424.98,446.67 425.59,446.96 426.19,447.24 426.80,447.53 427.40,447.81 428.00,448.09 428.61,448.37 429.21,448.65 429.82,448.92 430.42,449.19 431.03,449.45 431.63,449.72 432.23,449.98 432.84,450.23 433.44,450.49 434.05,450.74 434.65,450.98 435.25,451.23 435.86,451.47 436.46,451.71 437.07,451.94 437.67,452.17 438.27,452.40 438.88,452.63 439.48,452.85 440.09,453.07 440.69,453.28 441.30,453.50 441.90,453.71 442.50,453.91 443.11,454.12 443.71,454.32 444.32,454.52 444.92,454.71 445.52,454.91 446.13,455.10 446.73,455.28 447.34,455.47 447.94,455.65 448.54,455.83 449.15,456.01 449.75,456.18 450.36,456.35 450.96,456.52 451.57,456.69 452.17,456.85 452.77,457.01 453.38,457.17 453.98,457.33 454.59,457.48 455.19,457.64 455.79,457.79 456.40,457.93 457.00,458.08 457.61,458.22 458.21,458.36 458.81,458.50 459.42,458.64 460.02,458.77 460.63,458.90 461.23,459.03 461.84,459.16 462.44,459.29 463.04,459.41 463.65,459.53 464.25,459.65 464.86,459.77 465.46,459.89 466.06,460.00 466.67,460.11 467.27,460.22 467.88,460.33 468.48,460.44 469.08,460.54 469.69,460.65 470.29,460.75 470.90,460.85 471.50,460.95 472.11,461.05 472.71,461.14 473.31,461.24 473.92,461.33 474.52,461.42 475.13,461.51 475.73,461.60 476.33,461.68 476.94,461.77 477.54,461.85 478.15,461.93 478.75,462.01 479.35,462.09 479.96,462.17 480.56,462.25 481.17,462.32 481.77,462.40 482.38,462.47 482.98,462.54 483.58,462.61 484.19,462.68 484.79,462.75 485.40,462.82 486.00,462.88 486.60,462.95 487.21,463.01 487.81,463.07 488.42,463.13 489.02,463.19 489.62,463.25 490.23,463.31 490.83,463.37 491.44,463.42 492.04,463.48 492.65,463.53 493.25,463.59 493.85,463.64 494.46,463.69 495.06,463.74 495.67,463.79 496.27,463.84 496.87,463.89 497.48,463.94 498.08,463.98 498.69,464.03 499.29,464.07 499.89,464.12 500.50,464.16 501.10,464.20 501.71,464.24 502.31,464.28 502.92,464.32 503.52,464.36 504.12,464.40 504.73,464.44" stroke="#ff00ff"/>
</g>
<text transform="translate(204.70,484.50) scale(1.06,1)" text-anchor="middle" class="tk">0.01</text>
<text transform="translate(279.75,484.50) scale(1.06,1)" text-anchor="middle" class="tk">0.1</text>
<text transform="translate(354.00,484.50) scale(1.06,1)" text-anchor="middle" class="tk">1</text>
<text transform="translate(428.25,484.50) scale(1.06,1)" text-anchor="middle" class="tk">10</text>
<text transform="translate(502.50,484.50) scale(1.06,1)" text-anchor="middle" class="tk">100</text>
<text transform="translate(200.60,469.70) scale(1.06,1)" text-anchor="end" class="tk">1</text>
<text transform="translate(200.60,366.40) scale(1.06,1)" text-anchor="end" class="tk">10</text>
<text transform="translate(200.40,261.20) scale(1.06,1)" text-anchor="end" class="tk">100</text>
<polyline points="101.70,58.80 176.39,180.79" fill="none" stroke="#8000ff" stroke-width="1.3" stroke-linejoin="miter"/>
<polygon points="179.40,185.70 173.59,180.81 177.69,178.31" fill="#8000ff"/>
<polyline points="494.50,201.00 567.64,67.06" fill="none" stroke="#8000ff" stroke-width="1.3" stroke-linejoin="miter"/>
<polygon points="570.40,62.00 569.06,69.47 564.84,67.17" fill="#8000ff"/>
<polyline points="231.50,312.30 412.40,454.70 424.47,403.90" fill="none" stroke="#8000ff" stroke-width="1.3" stroke-linejoin="miter"/>
<polygon points="425.80,398.30 426.47,405.86 421.80,404.75" fill="#8000ff"/>
<text class="t" transform="translate(317.5,10.9) scale(1.07,1)">(a)</text>
<text class="t" transform="translate(207.2,59.3) scale(1.07,1)"><tspan class="i">h</tspan><tspan class="s" dy="3.5">0</tspan><tspan dy="-3.5"> = 5 μm, </tspan><tspan class="i">h</tspan><tspan class="s" dy="3.5">1</tspan><tspan dy="-3.5"> = 0.1μm</tspan></text>
<text class="t p" transform="translate(180.4,194) scale(1.113,1)"><tspan class="i">r</tspan><tspan class="s" dy="3.5">0</tspan><tspan dy="-3.5" dx="1.6"> =0, 1, 2, 4, 10</tspan></text>
<text class="t" transform="translate(184.3,240) scale(1.07,1)" text-anchor="middle"><tspan class="i">h</tspan> /μm</text>
<g transform="translate(8.9,115.5) rotate(-90) scale(1,1.12)" style="font-size:11px"><text class="t i" style="font-size:11px" x="0" y="0">H</text><text class="t" style="font-size:11px" x="10.2" y="0">/</text><text class="t i" style="font-size:11px" x="15.1" y="0">H</text><text class="t i s2" x="21.8" y="3.0">0</text></g>
<text class="t" transform="translate(657.8,11.2) scale(1.07,1)">(b)</text>
<text class="t" transform="translate(381.9,56.5) scale(1.07,1)"><tspan class="i">r</tspan><tspan class="s" dy="3.5">0</tspan><tspan dy="-3.5"> = 10, </tspan><tspan class="i">h</tspan><tspan class="s" dy="3.5">1</tspan><tspan dy="-3.5"> = 0.1μm</tspan></text>
<text class="t p" transform="translate(563.2,56.1) scale(1.07,1)"><tspan class="i">h</tspan><tspan class="s" dy="3.5">0</tspan><tspan dy="-3.5" dx="2.3"> =0, 1, 2, 4, 10 μm</tspan></text>
<text class="t" transform="translate(523.7,238.5) scale(1.07,1)" text-anchor="middle"><tspan class="i">h</tspan> /μm</text>
<g transform="translate(353.0,112.6) rotate(-90) scale(1,1.12)" style="font-size:11px"><text class="t i" style="font-size:11px" x="0" y="0">H</text><text class="t" style="font-size:11px" x="10.2" y="0">/</text><text class="t i" style="font-size:11px" x="15.1" y="0">H</text><text class="t i s2" x="21.8" y="3.0">0</text></g>
<text class="t" transform="translate(486.1,269.7) scale(1.07,1)">(c)</text>
<text class="t" transform="translate(356.4,318.4) scale(1.07,1)"><tspan class="i">r</tspan> = 10, <tspan class="i">h</tspan><tspan class="s" dy="3.5">0</tspan><tspan dy="-3.5"> = 5 μm</tspan></text>
<text class="t p" transform="translate(367.2,395.8) scale(1.07,1)"><tspan class="i">h</tspan><tspan class="s" dy="3.5">1</tspan><tspan dy="-3.5" dx="2.3"> =0.01, 0.1, 0.3, 0.6, 1μm</tspan></text>
<text class="t" transform="translate(353.6,492.5) scale(1.07,1)" text-anchor="middle"><tspan class="i">h</tspan> /μm</text>
<g transform="translate(180.6,370.9) rotate(-90) scale(1,1.12)" style="font-size:11px"><text class="t i" style="font-size:11px" x="0" y="0">H</text><text class="t" style="font-size:11px" x="10.2" y="0">/</text><text class="t i" style="font-size:11px" x="15.1" y="0">H</text><text class="t i s2" x="21.8" y="3.0">0</text></g>
</svg>
</body></html>
